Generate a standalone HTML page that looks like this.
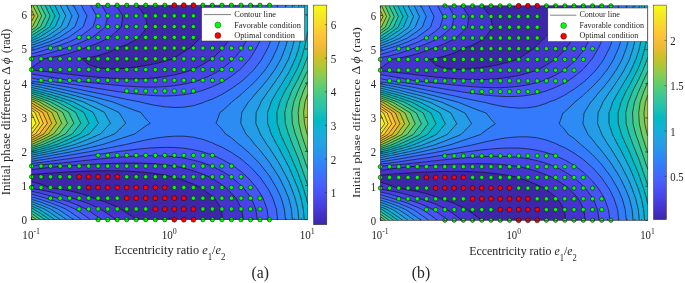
<!DOCTYPE html>
<html><head><meta charset="utf-8"><title>fig</title><style>html,body{margin:0;padding:0;background:#fff}svg{display:block}svg text{font-family:"Liberation Serif",serif;filter:grayscale(1)}</style></head><body>
<svg width="685" height="283" viewBox="0 0 685 283" fill="#262626">
<defs><linearGradient id="pg" x1="0" y1="1" x2="0" y2="0"><stop offset="0.0000" stop-color="#3e26a8"/><stop offset="0.0476" stop-color="#4332cb"/><stop offset="0.0952" stop-color="#4741e5"/><stop offset="0.1429" stop-color="#4852f4"/><stop offset="0.1905" stop-color="#4563fd"/><stop offset="0.2381" stop-color="#3875fe"/><stop offset="0.2857" stop-color="#2e87f7"/><stop offset="0.3333" stop-color="#2797eb"/><stop offset="0.3810" stop-color="#20a5e3"/><stop offset="0.4286" stop-color="#12b1d6"/><stop offset="0.4762" stop-color="#02bac3"/><stop offset="0.5238" stop-color="#24c1ae"/><stop offset="0.5714" stop-color="#37c897"/><stop offset="0.6190" stop-color="#57cc7a"/><stop offset="0.6667" stop-color="#81cc59"/><stop offset="0.7143" stop-color="#abc739"/><stop offset="0.7619" stop-color="#d1bf27"/><stop offset="0.8095" stop-color="#f0ba36"/><stop offset="0.8571" stop-color="#fec338"/><stop offset="0.9048" stop-color="#fad62d"/><stop offset="0.9524" stop-color="#f5e924"/><stop offset="1.0000" stop-color="#f9fb15"/><stop offset="1" stop-color="#f9fb15"/></linearGradient></defs>
<rect width="685" height="283" fill="#fff"/>
<clipPath id="cp0"><rect x="31.5" y="5.2" width="276.1" height="214.5"/></clipPath>
<g clip-path="url(#cp0)">
<path fill="#3e26a8" stroke="#3e26a8" stroke-width="0.6" d="M120.7,209 126.7,212.8 136.2,219.5 136.5,219.7 145.7,219.7 155.3,219.7 164.8,219.7 174.3,219.7 183.8,219.7 193.4,219.7 202.9,219.7 212.4,219.7 221.9,219.7 222.5,219.7 221.9,213.4 221.4,209 214.5,198.2 212.4,196.4 202.9,189.1 200.6,187.5 193.4,184.2 183.8,180.5 174.3,177.1 173.3,176.8 164.8,175.1 155.3,173.6 145.7,172.5 136.2,171.7 126.7,171.1 117.2,170.8 107.7,170.8 98.1,170.8 88.6,171.1 79.1,171.5 69.6,171.9 60.1,172.5 50.5,173.1 41,173.8 31.5,174.5 31.5,176.8 31.5,181.5 41,184.2 49.1,187.5 50.5,187.7 60.1,189.1 69.6,190.8 79.1,193.1 88.6,196.1 94.3,198.2 98.1,199.5 107.7,202.8 117.2,207.2 120.7,209ZM82.3,58.8 88.6,64.6 98.1,67.8 107.7,68.8 117.2,68.8 126.7,68.1 136.2,67 145.7,65.5 155.3,63.6 164.8,61.3 173,58.8 174.3,58 183.8,51.9 189.6,48.1 193.4,44.7 200.9,37.4 202.9,35.5 210.7,26.6 212.4,24.8 218.3,15.9 221.9,7.1 222.5,5.2 221.9,5.2 212.4,5.2 202.9,5.2 193.4,5.2 183.8,5.2 174.3,5.2 164.8,5.2 155.3,5.2 145.7,5.2 136.5,5.2 145.4,15.9 145.7,18.5 147.4,26.6 145.7,29.1 139.4,37.4 136.2,39.5 126.7,44.6 117.2,48.1 117.1,48.1 107.7,52.6 98.1,55.6 88.6,57.7 82.3,58.8Z"/>
<path fill="#4433cc" stroke="#4433cc" stroke-width="0.6" d="M100.4,209 107.7,213.7 115.9,219.7 117.2,219.7 126.7,219.7 136.2,219.7 136.5,219.7 136.2,219.5 126.7,212.8 120.7,209 117.2,207.2 107.7,202.8 98.1,199.5 94.3,198.2 88.6,196.1 79.1,193.1 69.6,190.8 60.1,189.1 50.5,187.7 49.1,187.5 41,184.2 31.5,181.5 31.5,187.5 31.5,188.5 41,190 50.5,191.9 60.1,194.2 69.6,197.1 72.7,198.2 79.1,200.2 88.6,203.6 98.1,207.9 100.4,209ZM221.4,209 221.9,213.4 222.5,219.7 231.4,219.7 241,219.7 243.1,219.7 241.6,209 241,207.5 236,198.2 231.4,193.1 225.8,187.5 221.9,184.7 212.4,178.7 209,176.8 202.9,174.2 193.4,170.8 183.8,168.1 174.7,166.1 174.3,166 164.8,164.7 155.3,163.8 145.7,163.3 136.2,163.1 126.7,163.1 117.2,163.3 107.7,163.6 98.1,164 88.6,164.5 79.1,165.1 69.6,165.6 62.1,166.1 60.1,166.3 50.5,167.4 41,168.5 31.5,169.7 31.5,174.5 41,173.8 50.5,173.1 60.1,172.5 69.6,171.9 79.1,171.5 88.6,171.1 98.1,170.8 107.7,170.8 117.2,170.8 126.7,171.1 136.2,171.7 145.7,172.5 155.3,173.6 164.8,175.1 173.3,176.8 174.3,177.1 183.8,180.5 193.4,184.2 200.6,187.5 202.9,189.1 212.4,196.4 214.5,198.2 221.4,209ZM31.5,69.6 31.5,69.9 41,71 50.5,72.1 60.1,73.2 69.6,74.3 79.1,75.4 88.6,76.4 98.1,77.3 107.7,78 117.2,78.6 126.7,78.9 136.2,78.9 145.7,78.6 155.3,77.8 164.8,76.6 174.3,74.9 183.8,72.5 193.3,69.6 193.4,69.5 202.9,64.4 212.1,58.8 212.4,58.6 221.9,49.3 223,48.1 230.8,37.4 231.4,36.4 236.7,26.6 241,16.9 241.3,15.9 243.1,5.2 241,5.2 231.4,5.2 222.5,5.2 221.9,7.1 218.3,15.9 212.4,24.8 210.7,26.6 202.9,35.5 200.9,37.4 193.4,44.7 189.6,48.1 183.8,51.9 174.3,58 173,58.8 164.8,61.3 155.3,63.6 145.7,65.5 136.2,67 126.7,68.1 117.2,68.8 107.7,68.8 98.1,67.8 88.6,64.6 82.3,58.8 88.6,57.7 98.1,55.6 107.7,52.6 117.1,48.1 117.2,48.1 126.7,44.6 136.2,39.5 139.4,37.4 145.7,29.1 147.4,26.6 145.7,18.5 145.4,15.9 136.5,5.2 136.2,5.2 126.7,5.2 117.2,5.2 115.9,5.2 117.2,7.3 122.9,15.9 121.4,26.6 117.2,30.8 109.5,37.4 107.7,38.4 98.1,43.1 88.6,46.7 84.2,48.1 79.1,50.1 69.6,53.3 60.1,55.7 50.5,57.6 43.2,58.8 41,61 31.5,67.8 31.5,69.6Z"/>
<path fill="#4743e7" stroke="#4743e7" stroke-width="0.6" d="M86.1,209 88.6,210.6 98.1,217 101.8,219.7 107.7,219.7 115.9,219.7 107.7,213.7 100.4,209 98.1,207.9 88.6,203.6 79.1,200.2 72.7,198.2 69.6,197.1 60.1,194.2 50.5,191.9 41,190 31.5,188.5 31.5,191.3 41,193.4 50.5,196 57.6,198.2 60.1,199 69.6,202 79.1,205.7 86.1,209ZM243.1,219.7 250.5,219.7 257.3,219.7 255.8,209 251.3,198.2 250.5,197.1 243.1,187.5 241,185.3 231.4,177.1 231.1,176.8 221.9,171.1 212.4,166.3 211.9,166.1 202.9,162.7 193.4,160.1 183.8,158.1 174.3,156.8 164.8,156 155.3,155.7 145.7,155.7 136.2,156.1 126.7,156.6 117.2,157.3 107.7,158.2 98.1,159.1 88.6,160.1 79.1,161.1 69.6,162.1 60.1,163.1 50.5,164 41,164.8 31.5,165.6 31.5,166.1 31.5,169.7 41,168.5 50.5,167.4 60.1,166.3 62.1,166.1 69.6,165.6 79.1,165.1 88.6,164.5 98.1,164 107.7,163.6 117.2,163.3 126.7,163.1 136.2,163.1 145.7,163.3 155.3,163.8 164.8,164.7 174.3,166 174.7,166.1 183.8,168.1 193.4,170.8 202.9,174.2 209,176.8 212.4,178.7 221.9,184.7 225.8,187.5 231.4,193.1 236,198.2 241,207.5 241.6,209 243.1,219.7ZM68.4,80.3 69.6,80.4 79.1,81.4 88.6,82.4 98.1,83.4 107.7,84.4 117.2,85.3 126.7,86.1 136.2,86.7 145.7,87.1 155.3,87.1 164.8,86.6 174.3,85.7 183.8,84.2 193.4,82 199,80.3 202.9,78.8 212.4,74.5 221.3,69.6 221.9,69.1 231.4,61.2 233.9,58.8 241,50 242.3,48.1 248.2,37.4 250.5,32.6 252.8,26.6 256,15.9 257.3,5.2 250.5,5.2 243.1,5.2 241.3,15.9 241,16.9 236.7,26.6 231.4,36.4 230.8,37.4 223,48.1 221.9,49.3 212.4,58.6 212.1,58.8 202.9,64.4 193.4,69.5 193.3,69.6 183.8,72.5 174.3,74.9 164.8,76.6 155.3,77.8 145.7,78.6 136.2,78.9 126.7,78.9 117.2,78.6 107.7,78 98.1,77.3 88.6,76.4 79.1,75.4 69.6,74.3 60.1,73.2 50.5,72.1 41,71 31.5,69.9 31.5,74 41,75.5 50.5,77.1 60.1,78.8 68.4,80.3ZM31.5,58.8 31.5,67.8 41,61 43.2,58.8 50.5,57.6 60.1,55.7 69.6,53.3 79.1,50.1 84.2,48.1 88.6,46.7 98.1,43.1 107.7,38.4 109.5,37.4 117.2,30.8 121.4,26.6 122.9,15.9 117.2,7.3 115.9,5.2 107.7,5.2 101.8,5.2 107.7,15.6 107.8,15.9 107.7,16.6 105.3,26.6 98.1,32.8 92,37.4 88.6,39.1 79.1,43.3 69.6,46.7 64.9,48.1 60.1,49.8 50.5,52.9 41,55.2 31.5,57.1 31.5,58.8Z"/>
<path fill="#4755f6" stroke="#4755f6" stroke-width="0.6" d="M74.9,209 79.1,211.6 88.6,218.3 90.6,219.7 98.1,219.7 101.8,219.7 98.1,217 88.6,210.6 86.1,209 79.1,205.7 69.6,202 60.1,199 57.6,198.2 50.5,196 41,193.4 31.5,191.3 31.5,194.1 41,196.8 45.7,198.2 50.5,199.7 60.1,202.8 69.6,206.6 74.9,209ZM257.3,219.7 260,219.7 268.5,219.7 267,209 263,198.2 260,193 256.4,187.5 250.5,180.5 246.9,176.8 241,171.5 233.6,166.1 231.4,164.6 221.9,159.3 212.8,155.3 212.4,155.1 202.9,151.9 193.4,149.7 183.8,148.2 174.3,147.5 164.8,147.4 155.3,147.7 145.7,148.4 136.2,149.3 126.7,150.5 117.2,151.7 107.7,153 98.1,154.4 91.1,155.3 88.6,155.7 79.1,157.2 69.6,158.6 60.1,159.9 50.5,161.2 41,162.4 31.5,163.4 31.5,165.6 41,164.8 50.5,164 60.1,163.1 69.6,162.1 79.1,161.1 88.6,160.1 98.1,159.1 107.7,158.2 117.2,157.3 126.7,156.6 136.2,156.1 145.7,155.7 155.3,155.7 164.8,156 174.3,156.8 183.8,158.1 193.4,160.1 202.9,162.7 211.9,166.1 212.4,166.3 221.9,171.1 231.1,176.8 231.4,177.1 241,185.3 243.1,187.5 250.5,197.1 251.3,198.2 255.8,209 257.3,219.7ZM114.1,91 117.2,91.5 126.7,92.8 136.2,94 145.7,95 155.3,95.7 164.8,96 174.3,95.7 183.8,94.7 193.4,93 200.3,91 202.9,90.3 212.4,86.8 221.9,82.2 225.2,80.3 231.4,76.2 239.9,69.6 241,68.6 249.8,58.8 250.5,57.8 256.4,48.1 260,40.6 261.3,37.4 264.9,26.6 267.5,15.9 268.5,5.2 260,5.2 257.3,5.2 256,15.9 252.8,26.6 250.5,32.6 248.2,37.4 242.3,48.1 241,50 233.9,58.8 231.4,61.2 221.9,69.1 221.3,69.6 212.4,74.5 202.9,78.8 199,80.3 193.4,82 183.8,84.2 174.3,85.7 164.8,86.6 155.3,87.1 145.7,87.1 136.2,86.7 126.7,86.1 117.2,85.3 107.7,84.4 98.1,83.4 88.6,82.4 79.1,81.4 69.6,80.4 68.4,80.3 60.1,78.8 50.5,77.1 41,75.5 31.5,74 31.5,78 41,80 42.2,80.3 50.5,81.3 60.1,82.6 69.6,84 79.1,85.4 88.6,86.9 98.1,88.5 107.7,90 114.1,91ZM31.5,53.9 31.5,57.1 41,55.2 50.5,52.9 60.1,49.8 64.9,48.1 69.6,46.7 79.1,43.3 88.6,39.1 92,37.4 98.1,32.8 105.3,26.6 107.7,16.6 107.8,15.9 107.7,15.6 101.8,5.2 98.1,5.2 90.6,5.2 96.5,15.9 93.2,26.6 88.6,30.4 79.1,37.2 78.8,37.4 69.6,41.7 60.1,45.2 50.5,48.1 50.5,48.1 41,51.3 31.5,53.9Z"/>
<path fill="#4367fd" stroke="#4367fd" stroke-width="0.6" d="M65.6,209 69.6,211.5 79.1,218 81.4,219.7 88.6,219.7 90.6,219.7 88.6,218.3 79.1,211.6 74.9,209 69.6,206.6 60.1,202.8 50.5,199.7 45.7,198.2 41,196.8 31.5,194.1 31.5,196.9 35.9,198.2 41,199.7 50.5,202.8 60.1,206.5 65.6,209ZM268.5,219.7 269.5,219.7 277.7,219.7 276.4,209 272.8,198.2 269.5,191.5 267.2,187.5 260,177.3 259.6,176.8 250.5,167 249.4,166.1 241,158.9 235.6,155.3 231.4,152.4 221.9,147.1 215.8,144.6 212.4,142.9 202.9,139.4 193.4,137.2 183.8,136.2 174.3,136.2 164.8,136.9 155.3,138.2 145.7,140 136.2,142.1 126.7,144.3 125.6,144.6 117.2,146.2 107.7,148.1 98.1,150 88.6,151.8 79.1,153.5 69.6,155.1 68.1,155.3 60.1,156.8 50.5,158.4 41,159.9 31.5,161.3 31.5,163.4 41,162.4 50.5,161.2 60.1,159.9 69.6,158.6 79.1,157.2 88.6,155.7 91.1,155.3 98.1,154.4 107.7,153 117.2,151.7 126.7,150.5 136.2,149.3 145.7,148.4 155.3,147.7 164.8,147.4 174.3,147.5 183.8,148.2 193.4,149.7 202.9,151.9 212.4,155.1 212.8,155.3 221.9,159.3 231.4,164.6 233.6,166.1 241,171.5 246.9,176.8 250.5,180.5 256.4,187.5 260,193 263,198.2 267,209 268.5,219.7ZM139.2,101.7 145.7,103.4 155.3,105.4 164.8,106.8 174.3,107.5 183.8,107.2 193.4,105.7 202.9,102.7 204.9,101.7 212.4,99.1 221.9,94.5 227.5,91 231.4,88.7 241,81.8 242.8,80.3 250.5,73.2 253.9,69.6 260,61.8 262,58.8 267.7,48.1 269.5,43.8 271.8,37.4 274.8,26.6 277,15.9 277.7,5.2 269.5,5.2 268.5,5.2 267.5,15.9 264.9,26.6 261.3,37.4 260,40.6 256.4,48.1 250.5,57.8 249.8,58.8 241,68.6 239.9,69.6 231.4,76.2 225.2,80.3 221.9,82.2 212.4,86.8 202.9,90.3 200.3,91 193.4,93 183.8,94.7 174.3,95.7 164.8,96 155.3,95.7 145.7,95 136.2,94 126.7,92.8 117.2,91.5 114.1,91 107.7,90 98.1,88.5 88.6,86.9 79.1,85.4 69.6,84 60.1,82.6 50.5,81.3 42.2,80.3 41,80 31.5,78 31.5,80.3 31.5,81.2 41,82.5 50.5,84.1 60.1,85.7 69.6,87.5 79.1,89.4 86.8,91 88.6,91.4 98.1,93.3 107.7,95.3 117.2,97.4 126.7,99.4 136.2,101.2 139.2,101.7ZM31.5,50.7 31.5,53.9 41,51.3 50.5,48.1 50.5,48.1 60.1,45.2 69.6,41.7 78.8,37.4 79.1,37.2 88.6,30.4 93.2,26.6 96.5,15.9 90.6,5.2 88.6,5.2 81.4,5.2 87,15.9 83.3,26.6 79.1,29.9 69.6,36.6 68.4,37.4 60.1,41.1 50.5,44.7 41,47.6 39.4,48.1 31.5,50.7Z"/>
<path fill="#347afd" stroke="#347afd" stroke-width="0.6" d="M57.6,209 60.1,210.5 69.6,216.9 73.5,219.7 79.1,219.7 81.4,219.7 79.1,218 69.6,211.5 65.6,209 60.1,206.5 50.5,202.8 41,199.7 35.9,198.2 31.5,196.9 31.5,198.2 31.5,199.4 41,202.3 50.5,205.9 57.6,209ZM277.7,219.7 279,219.7 285.5,219.7 284.3,209 281.3,198.2 279,193 276.3,187.5 269.9,176.8 269.5,176.1 261.7,166.1 260,163.9 251.7,155.3 250.5,154.1 241,145.8 239.3,144.6 231.4,137.8 225.5,133.9 221.9,129.1 216.1,123.2 220,112.4 221.9,111.2 231.4,102.5 232.1,101.7 241,94.7 244.7,91 250.5,86 256.1,80.3 260,76.1 265.3,69.6 269.5,63.4 272.2,58.8 277.2,48.1 279,42.8 280.7,37.4 283.2,26.6 285,15.9 285.5,5.2 279,5.2 277.7,5.2 277,15.9 274.8,26.6 271.8,37.4 269.5,43.8 267.7,48.1 262,58.8 260,61.8 253.9,69.6 250.5,73.2 242.8,80.3 241,81.8 231.4,88.7 227.5,91 221.9,94.5 212.4,99.1 204.9,101.7 202.9,102.7 193.4,105.7 183.8,107.2 174.3,107.5 164.8,106.8 155.3,105.4 145.7,103.4 139.2,101.7 136.2,101.2 126.7,99.4 117.2,97.4 107.7,95.3 98.1,93.3 88.6,91.4 86.8,91 79.1,89.4 69.6,87.5 60.1,85.7 50.5,84.1 41,82.5 31.5,81.2 31.5,83.3 41,84.9 50.5,86.8 60.1,88.8 69.4,91 69.6,91 79.1,93.2 88.6,95.5 98.1,98 107.7,100.6 112.1,101.7 117.2,103.7 126.7,107.4 136.2,110.9 140.7,112.4 145.7,118.6 150.2,123.2 145.7,126 136.2,132.9 135,133.9 126.7,136.6 117.2,139.7 107.7,142.9 102.3,144.6 98.1,145.6 88.6,147.9 79.1,150.1 69.6,152.1 60.1,153.9 52.2,155.3 50.5,155.7 41,157.5 31.5,159.2 31.5,161.3 41,159.9 50.5,158.4 60.1,156.8 68.1,155.3 69.6,155.1 79.1,153.5 88.6,151.8 98.1,150 107.7,148.1 117.2,146.2 125.6,144.6 126.7,144.3 136.2,142.1 145.7,140 155.3,138.2 164.8,136.9 174.3,136.2 183.8,136.2 193.4,137.2 202.9,139.4 212.4,142.9 215.8,144.6 221.9,147.1 231.4,152.4 235.6,155.3 241,158.9 249.4,166.1 250.5,167 259.6,176.8 260,177.3 267.2,187.5 269.5,191.5 272.8,198.2 276.4,209 277.7,219.7ZM31.5,48.1 31.5,50.7 39.4,48.1 41,47.6 50.5,44.7 60.1,41.1 68.4,37.4 69.6,36.6 79.1,29.9 83.3,26.6 87,15.9 81.4,5.2 79.1,5.2 73.5,5.2 78.9,15.9 74.9,26.6 69.6,30.7 60.1,37 59.5,37.4 50.5,41.3 41,44.8 31.5,47.7 31.5,48.1Z"/>
<path fill="#2d8cf3" stroke="#2d8cf3" stroke-width="0.6" d="M50.4,209 50.5,209.1 60.1,215.1 66.6,219.7 69.6,219.7 73.5,219.7 69.6,216.9 60.1,210.5 57.6,209 50.5,205.9 41,202.3 31.5,199.4 31.5,201.6 41,205 50.4,209ZM285.5,219.7 288.6,219.7 292.4,219.7 291.4,209 288.7,198.2 288.6,197.8 284.2,187.5 279,177.2 278.8,176.8 271.9,166.1 269.5,162.4 263.9,155.3 260,150.2 254.8,144.6 250.5,138.9 245.9,133.9 241,123.8 240.6,123.2 241,120.3 241.8,112.4 248.6,101.7 250.5,99.9 257.8,91 260,88.8 267,80.3 269.5,77.1 274.8,69.6 279,62.5 281,58.8 285.2,48.1 288.4,37.4 288.6,36.8 290.5,26.6 292,15.9 292.4,5.2 288.6,5.2 285.5,5.2 285,15.9 283.2,26.6 280.7,37.4 279,42.8 277.2,48.1 272.2,58.8 269.5,63.4 265.3,69.6 260,76.1 256.1,80.3 250.5,86 244.7,91 241,94.7 232.1,101.7 231.4,102.5 221.9,111.2 220,112.4 216.1,123.2 221.9,129.1 225.5,133.9 231.4,137.8 239.3,144.6 241,145.8 250.5,154.1 251.7,155.3 260,163.9 261.7,166.1 269.5,176.1 269.9,176.8 276.3,187.5 279,193 281.3,198.2 284.3,209 285.5,219.7ZM31.5,157 31.5,159.2 41,157.5 50.5,155.7 52.2,155.3 60.1,153.9 69.6,152.1 79.1,150.1 88.6,147.9 98.1,145.6 102.3,144.6 107.7,142.9 117.2,139.7 126.7,136.6 135,133.9 136.2,132.9 145.7,126 150.2,123.2 145.7,118.6 140.7,112.4 136.2,110.9 126.7,107.4 117.2,103.7 112.1,101.7 107.7,100.6 98.1,98 88.6,95.5 79.1,93.2 69.6,91 69.4,91 60.1,88.8 50.5,86.8 41,84.9 31.5,83.3 31.5,85.4 41,87.3 50.5,89.5 56.6,91 60.1,91.9 69.6,94.2 79.1,96.8 88.6,99.7 95.4,101.7 98.1,103 107.7,107.2 117.2,111.7 118.9,112.4 125.8,123.2 117.2,131.4 114.8,133.9 107.7,136.7 98.1,140.4 88.6,143.9 86.6,144.6 79.1,146.6 69.6,149.1 60.1,151.3 50.5,153.3 41,155.1 39.8,155.3 31.5,157ZM31.5,45.3 31.5,47.7 41,44.8 50.5,41.3 59.5,37.4 60.1,37 69.6,30.7 74.9,26.6 78.9,15.9 73.5,5.2 69.6,5.2 66.6,5.2 69.6,11.4 72,15.9 69.6,21.6 67.5,26.6 60.1,32.2 51.9,37.4 50.5,38 41,42 31.5,45.3Z"/>
<path fill="#259ce7" stroke="#259ce7" stroke-width="0.6" d="M44.3,209 50.5,212.9 60.1,219.6 60.2,219.7 66.6,219.7 60.1,215.1 50.5,209.1 50.4,209 41,205 31.5,201.6 31.5,203.8 41,207.6 44.3,209ZM292.4,219.7 298.1,219.7 298.8,219.7 298.1,211.9 297.8,209 295.1,198.2 291.2,187.5 288.6,181.2 286.4,176.8 280.7,166.1 279,163 274.1,155.3 269.5,148 266.9,144.6 260.2,133.9 260,133.3 255.8,123.2 256.2,112.4 260,104.6 261.1,101.7 268.4,91 269.5,89.7 276.1,80.3 279,76.1 283.1,69.6 288.6,59 288.7,58.8 292.3,48.1 295,37.4 297.1,26.6 298.1,19.1 298.4,15.9 298.8,5.2 298.1,5.2 292.4,5.2 292,15.9 290.5,26.6 288.6,36.8 288.4,37.4 285.2,48.1 281,58.8 279,62.5 274.8,69.6 269.5,77.1 267,80.3 260,88.8 257.8,91 250.5,99.9 248.6,101.7 241.8,112.4 241,120.3 240.6,123.2 241,123.8 245.9,133.9 250.5,138.9 254.8,144.6 260,150.2 263.9,155.3 269.5,162.4 271.9,166.1 278.8,176.8 279,177.2 284.2,187.5 288.6,197.8 288.7,198.2 291.4,209 292.4,219.7ZM31.5,155.3 31.5,157 39.8,155.3 41,155.1 50.5,153.3 60.1,151.3 69.6,149.1 79.1,146.6 86.6,144.6 88.6,143.9 98.1,140.4 107.7,136.7 114.8,133.9 117.2,131.4 125.8,123.2 118.9,112.4 117.2,111.7 107.7,107.2 98.1,103 95.4,101.7 88.6,99.7 79.1,96.8 69.6,94.2 60.1,91.9 56.6,91 50.5,89.5 41,87.3 31.5,85.4 31.5,87.5 41,89.7 46,91 50.5,92.1 60.1,94.7 69.6,97.4 79.1,100.5 83,101.7 88.6,104.5 98.1,109.2 104.4,112.4 107.7,118.5 110.5,123.2 107.7,126.1 100.6,133.9 98.1,134.9 88.6,139.1 79.1,142.9 74.6,144.6 69.6,146 60.1,148.6 50.5,151 41,153.1 31.5,155 31.5,155.3ZM31.5,43 31.5,45.3 41,42 50.5,38 51.9,37.4 60.1,32.2 67.5,26.6 69.6,21.6 72,15.9 69.6,11.4 66.6,5.2 60.2,5.2 65.8,15.9 61,26.6 60.1,27.3 50.5,34.1 45.2,37.4 41,39.2 31.5,43Z"/>
<path fill="#1caadf" stroke="#1caadf" stroke-width="0.6" d="M38.6,209 41,210.5 50.5,216.7 54.8,219.7 60.1,219.7 60.2,219.7 60.1,219.6 50.5,212.9 44.3,209 41,207.6 31.5,203.8 31.5,206 38.6,209ZM297.8,209 298.1,211.9 298.8,219.7 304.2,219.7 303.3,209 301,198.2 298.1,188.9 297.6,187.5 293.1,176.8 288.6,166.4 288.4,166.1 282.7,155.3 279,148.2 276.8,144.6 271.2,133.9 269.5,128.5 267.6,123.2 267.5,112.4 269.5,107.2 271.2,101.7 277.3,91 279,88.5 284,80.3 288.6,72.9 290.3,69.6 295.2,58.8 298.1,50.6 298.8,48.1 301.1,37.4 302.8,26.6 303.9,15.9 304.2,5.2 298.8,5.2 298.4,15.9 298.1,19.1 297.1,26.6 295,37.4 292.3,48.1 288.7,58.8 288.6,59 283.1,69.6 279,76.1 276.1,80.3 269.5,89.7 268.4,91 261.1,101.7 260,104.6 256.2,112.4 255.8,123.2 260,133.3 260.2,133.9 266.9,144.6 269.5,148 274.1,155.3 279,163 280.7,166.1 286.4,176.8 288.6,181.2 291.2,187.5 295.1,198.2 297.8,209ZM31.5,153.2 31.5,155 41,153.1 50.5,151 60.1,148.6 69.6,146 74.6,144.6 79.1,142.9 88.6,139.1 98.1,134.9 100.6,133.9 107.7,126.1 110.5,123.2 107.7,118.5 104.4,112.4 98.1,109.2 88.6,104.5 83,101.7 79.1,100.5 69.6,97.4 60.1,94.7 50.5,92.1 46,91 41,89.7 31.5,87.5 31.5,89.6 37.1,91 41,92 50.5,94.6 60.1,97.5 69.6,100.6 72.8,101.7 79.1,104.9 88.6,110 93.1,112.4 98.1,122.3 98.6,123.2 98.1,123.7 89.4,133.9 88.6,134.2 79.1,138.6 69.6,142.7 64.7,144.6 60.1,146 50.5,148.7 41,151.1 31.5,153.2ZM31.5,40.6 31.5,43 41,39.2 45.2,37.4 50.5,34.1 60.1,27.3 61,26.6 65.8,15.9 60.2,5.2 60.1,5.2 54.8,5.2 59.9,15.9 55.3,26.6 50.5,30.1 41,36.2 39.1,37.4 31.5,40.6Z"/>
<path fill="#05b6ce" stroke="#05b6ce" stroke-width="0.6" d="M33.4,209 41,213.7 49.6,219.7 50.5,219.7 54.8,219.7 50.5,216.7 41,210.5 38.6,209 31.5,206 31.5,208.2 33.4,209ZM304.2,219.7 307.6,219.7 307.6,209 307.6,203.9 306.4,198.2 303.1,187.5 299.3,176.8 298.1,173.3 295,166.1 290.3,155.3 288.6,151.2 285.2,144.6 280.4,133.9 279,128.9 277.2,123.2 276.9,112.4 279,105.1 279.9,101.7 284.9,91 288.6,85 291,80.3 296.8,69.6 298.1,66.8 301.3,58.8 304.4,48.1 306.7,37.4 307.6,31.3 307.6,26.6 307.6,15.9 307.6,5.2 304.2,5.2 303.9,15.9 302.8,26.6 301.1,37.4 298.8,48.1 298.1,50.6 295.2,58.8 290.3,69.6 288.6,72.9 284,80.3 279,88.5 277.3,91 271.2,101.7 269.5,107.2 267.5,112.4 267.6,123.2 269.5,128.5 271.2,133.9 276.8,144.6 279,148.2 282.7,155.4 288.4,166.1 288.6,166.4 293.1,176.8 297.6,187.5 298.1,188.9 301,198.2 303.3,209 304.2,219.7ZM31.5,151.5 31.5,153.2 41,151.1 50.5,148.7 60.1,146 64.7,144.6 69.6,142.7 79.1,138.6 88.6,134.2 89.4,133.9 98.1,123.7 98.6,123.2 98.1,122.3 93.1,112.4 88.6,110 79.1,104.9 72.8,101.7 69.6,100.6 60.1,97.5 50.5,94.6 41,92 37.1,91 31.5,89.6 31.5,91 31.5,91.6 41,94.1 50.5,97 60.1,100.3 64.3,101.7 69.6,104.5 79.1,109.8 83.8,112.4 88.6,122.4 89,123.2 88.6,123.6 80.2,133.9 79.1,134.4 69.6,139 60.1,143.1 56.3,144.6 50.5,146.4 41,149.1 31.5,151.5ZM31.5,38.3 31.5,40.6 39.1,37.4 41,36.2 50.5,30.1 55.3,26.6 59.9,15.9 54.8,5.2 50.5,5.2 49.6,5.2 50.5,7.2 55,15.9 50.5,25.2 49.9,26.6 41,32.9 33.6,37.4 31.5,38.3Z"/>
<path fill="#12beb9" stroke="#12beb9" stroke-width="0.6" d="M31.5,209 31.5,210.7 41,216.9 45.1,219.7 49.6,219.7 41,213.7 33.4,209 31.5,208.2 31.5,209ZM306.4,198.2 307.6,203.9 307.6,198.2 307.6,187.5 307.6,184.8 304.8,176.8 301,166.1 298.1,157.8 297,155.3 292.5,144.6 288.6,134.2 288.4,133.9 285.3,123.2 284.8,112.4 287.3,101.7 288.6,99 291.7,91 297.4,80.3 298.1,79 302.5,69.6 306.9,58.8 307.6,56.3 307.6,48.1 307.6,37.4 307.6,31.3 306.7,37.4 304.4,48.1 301.3,58.8 298.1,66.8 296.8,69.6 291,80.3 288.6,85 284.9,91 279.9,101.7 279,105.1 276.9,112.4 277.2,123.2 279,128.9 280.4,133.9 285.2,144.6 288.6,151.2 290.3,155.4 295,166.1 298.1,173.3 299.3,176.8 303.1,187.5 306.4,198.2ZM31.5,149.7 31.5,151.5 41,149.1 50.5,146.4 56.3,144.6 60.1,143.1 69.6,139 79.1,134.4 80.2,133.9 88.6,123.6 89,123.2 88.6,122.4 83.8,112.4 79.1,109.8 69.6,104.5 64.3,101.7 60.1,100.3 50.5,97 41,94.1 31.5,91.6 31.5,93.4 41,96.3 50.5,99.5 56.8,101.7 60.1,103.5 69.6,108.8 75.8,112.4 79.1,119.6 80.9,123.2 79.1,125.4 72.4,133.9 69.6,135.3 60.1,139.8 50.5,143.9 48.9,144.6 41,147.1 31.5,149.7ZM31.5,37.4 31.5,38.3 33.6,37.4 41,32.9 49.9,26.6 50.5,25.2 55,15.9 50.5,7.2 49.6,5.2 45.1,5.2 50.1,15.9 45.2,26.6 41,29.6 31.5,35.7 31.5,37.4Z"/>
<path fill="#2fc5a2" stroke="#2fc5a2" stroke-width="0.6" d="M40.6,219.7 41,219.7 45.1,219.7 41,216.9 31.5,210.7 31.5,213.4 40.6,219.7ZM304.8,176.8 307.6,184.8 307.6,176.8 307.6,168.9 306.6,166.1 302.9,155.4 299.1,144.6 298.1,141.4 295.2,133.9 292.4,123.2 291.8,112.4 293.8,101.7 298,91 298.1,90.9 302.9,80.3 307.6,70.5 307.6,69.6 307.6,58.8 307.6,56.3 306.9,58.8 302.5,69.6 298.1,79 297.4,80.3 291.7,91 288.6,99 287.3,101.7 284.8,112.4 285.3,123.2 288.4,133.9 288.6,134.2 292.5,144.6 297,155.3 298.1,157.8 301,166.1 304.8,176.8ZM31.5,148 31.5,149.7 41,147.1 48.9,144.6 50.5,143.9 60.1,139.8 69.6,135.3 72.4,133.9 79.1,125.4 80.9,123.2 79.1,119.6 75.8,112.5 69.6,108.8 60.1,103.5 56.8,101.7 50.5,99.5 41,96.3 31.5,93.4 31.5,95.3 41,98.4 50.1,101.7 50.5,102 60.1,107.2 68.7,112.4 69.6,114.4 73.9,123.2 69.6,128.6 65.5,133.9 60.1,136.6 50.5,141.1 42.4,144.6 41,145 31.5,148ZM31.5,32.9 31.5,35.7 41,29.6 45.2,26.6 50.1,15.9 45.1,5.2 41,5.2 40.6,5.2 41,6.2 45.9,15.9 41,25.7 40.6,26.6 31.5,32.9Z"/>
<path fill="#48cb86" stroke="#48cb86" stroke-width="0.6" d="M36.7,219.7 40.6,219.7 31.5,213.4 31.5,216.1 36.7,219.7ZM306.6,166.1 307.6,168.9 307.6,166.1 307.6,155.3 307.6,152.4 304.9,144.6 301.4,133.9 298.9,123.2 298.2,112.4 299.7,101.7 303.4,91 307.6,81.8 307.6,80.3 307.6,70.5 302.9,80.3 298.1,90.9 298,91 293.8,101.7 291.8,112.4 292.4,123.2 295.2,133.9 298.1,141.4 299.1,144.6 302.9,155.3 306.6,166.1ZM31.5,146.2 31.5,148 41,145 42.4,144.6 50.5,141.1 60.1,136.6 65.5,133.9 69.6,128.6 73.9,123.2 69.6,114.4 68.7,112.4 60.1,107.2 50.5,102 50.1,101.7 41,98.4 31.5,95.3 31.5,97.1 41,100.5 44.3,101.7 50.5,105.2 60.1,110.9 62.6,112.4 67.5,123.2 60.1,132.7 59.2,133.9 50.5,138.3 41,142.7 36.6,144.6 31.5,146.2ZM31.5,30.1 31.5,32.9 40.6,26.6 41,25.7 45.9,15.9 41,6.2 40.6,5.2 36.7,5.2 41,14.6 41.7,15.9 41,17.2 36.6,26.6 31.5,30.1Z"/>
<path fill="#71cd64" stroke="#71cd64" stroke-width="0.6" d="M32.8,219.7 36.7,219.7 31.5,216.1 31.5,218.8 32.8,219.7ZM31.5,144.6 31.5,146.2 36.6,144.6 41,142.7 50.5,138.3 59.2,133.9 60.1,132.7 67.5,123.2 62.6,112.4 60.1,110.9 50.5,105.2 44.3,101.7 41,100.5 31.5,97.1 31.5,98.9 38.9,101.7 41,102.9 50.5,108.5 57,112.4 60.1,119.6 61.8,123.2 60.1,125.4 53.7,133.9 50.5,135.5 41,140.3 31.5,144.5 31.5,144.6ZM304.9,144.6 307.6,152.4 307.6,144.6 307.6,135.4 307.1,133.9 304.5,123.2 303.6,112.4 305.1,101.7 307.6,94.2 307.6,91 307.6,81.8 303.4,91 299.7,101.7 298.2,112.5 298.9,123.2 301.4,133.9 304.9,144.6ZM31.5,27.4 31.5,30.1 36.6,26.6 41,17.2 41.7,15.9 41,14.6 36.7,5.2 32.8,5.2 38,15.9 32.5,26.6 31.5,27.4Z"/>
<path fill="#9fc942" stroke="#9fc942" stroke-width="0.6" d="M31.5,219.7 32.8,219.7 31.5,218.8 31.5,219.7ZM31.5,142.4 31.5,144.5 41,140.3 50.5,135.5 53.7,133.9 60.1,125.4 61.8,123.2 60.1,119.6 57,112.4 50.5,108.5 41,102.9 38.9,101.7 31.5,98.9 31.5,100.8 34,101.7 41,105.8 50.5,111.7 51.8,112.4 56.6,123.2 50.5,131.2 48.6,133.9 41,137.8 31.5,142.4ZM307.1,133.9 307.6,135.4 307.6,133.9 307.6,123.2 307.6,112.4 307.6,101.7 307.6,94.2 305.1,101.7 303.6,112.4 304.5,123.2 307.1,133.9ZM31.5,26.6 31.5,27.4 32.5,26.6 38,15.9 32.8,5.2 31.5,5.2 31.5,10.1 34.4,15.9 31.5,21.5 31.5,26.6Z"/>
<path fill="#c8c129" stroke="#c8c129" stroke-width="0.6" d="M31.5,140.3 31.5,142.4 41,137.8 48.6,133.9 50.5,131.2 56.6,123.2 51.8,112.4 50.5,111.7 41,105.8 34,101.7 31.5,100.8 31.5,101.7 31.5,102.9 41,108.6 47.2,112.4 50.5,120.5 51.8,123.2 50.5,124.8 43.9,133.9 41,135.4 31.5,140.3ZM31.5,15.9 31.5,21.5 34.4,15.9 31.5,10.1 31.5,15.9Z"/>
<path fill="#eaba31" stroke="#eaba31" stroke-width="0.6" d="M31.5,138.2 31.5,140.3 41,135.4 43.9,133.9 50.5,124.8 51.8,123.2 50.5,120.5 47.2,112.4 41,108.6 31.5,102.9 31.5,105.4 41,111.4 42.7,112.4 47.5,123.2 41,131.8 39.5,133.9 31.5,138.2Z"/>
<path fill="#fec13a" stroke="#fec13a" stroke-width="0.6" d="M31.5,136 31.5,138.2 39.5,133.9 41,131.8 47.5,123.2 42.7,112.4 41,111.4 31.5,105.4 31.5,107.8 38.7,112.4 41,118.1 43.3,123.2 41,126.3 35.5,133.9 31.5,136Z"/>
<path fill="#fad42e" stroke="#fad42e" stroke-width="0.6" d="M31.5,133.9 31.5,136 35.5,133.9 41,126.3 43.3,123.2 41,118.1 38.7,112.5 31.5,107.8 31.5,110.2 34.9,112.4 39.5,123.2 31.6,133.9 31.5,133.9Z"/>
<path fill="#f5e825" stroke="#f5e825" stroke-width="0.6" d="M31.5,133.9 31.5,133.9 31.6,133.9 39.5,123.2 34.9,112.4 31.5,110.2 31.5,112.4 31.5,113.1 36,123.2 31.5,129.2 31.5,133.9Z"/>
<path fill="#f9fb15" stroke="#f9fb15" stroke-width="0.6" d="M31.5,123.2 31.5,129.2 36,123.2 31.5,113.1 31.5,123.2Z"/>
<path fill="none" stroke="#000" stroke-opacity="1" stroke-width="0.62" stroke-linejoin="round" d="M136.5,219.7 136.2,219.5 126.7,212.8 120.7,209 117.2,207.2 107.7,202.8 98.1,199.5 94.3,198.2 88.6,196.1 79.1,193.1 69.6,190.8 60.1,189.1 50.5,187.7 49.1,187.5 41,184.2 31.5,181.5M31.5,174.5 41,173.8 50.5,173.1 60.1,172.5 69.6,171.9 79.1,171.5 88.6,171.1 98.1,170.8 107.7,170.8 117.2,170.8 126.7,171.1 136.2,171.7 145.7,172.5 155.3,173.6 164.8,175.1 173.3,176.8 174.3,177.1 183.8,180.5 193.4,184.2 200.6,187.5 202.9,189.1 212.4,196.4 214.5,198.2 221.4,209 221.9,213.4 222.5,219.7M222.5,5.2 221.9,7.1 218.3,15.9 212.4,24.8 210.7,26.6 202.9,35.5 200.9,37.4 193.4,44.7 189.6,48.1 183.8,51.9 174.3,58 173,58.8 164.8,61.3 155.3,63.6 145.7,65.5 136.2,67 126.7,68.1 117.2,68.8 107.7,68.8 98.1,67.8 88.6,64.6 82.3,58.8 88.6,57.7 98.1,55.6 107.7,52.6 117.1,48.1 117.2,48.1 126.7,44.6 136.2,39.5 139.4,37.4 145.7,29.1 147.4,26.6 145.7,18.5 145.4,15.9 136.5,5.2M115.9,219.7 107.7,213.7 100.4,209 98.1,207.9 88.6,203.6 79.1,200.2 72.7,198.2 69.6,197.1 60.1,194.2 50.5,191.9 41,190 31.5,188.5M31.5,169.7 41,168.5 50.5,167.4 60.1,166.3 62.1,166.1 69.6,165.6 79.1,165.1 88.6,164.5 98.1,164 107.7,163.6 117.2,163.3 126.7,163.1 136.2,163.1 145.7,163.3 155.3,163.8 164.8,164.7 174.3,166 174.7,166.1 183.8,168.1 193.4,170.8 202.9,174.2 209,176.8 212.4,178.7 221.9,184.7 225.8,187.5 231.4,193.1 236,198.2 241,207.5 241.6,209 243.1,219.7M31.5,67.8 41,61 43.2,58.8 50.5,57.6 60.1,55.7 69.6,53.3 79.1,50.1 84.2,48.1 88.6,46.7 98.1,43.1 107.7,38.4 109.5,37.4 117.2,30.8 121.4,26.6 122.9,15.9 117.2,7.3 115.9,5.2M243.1,5.2 241.3,15.9 241,16.9 236.7,26.6 231.4,36.4 230.8,37.4 223,48.1 221.9,49.3 212.4,58.6 212.1,58.8 202.9,64.4 193.4,69.5 193.3,69.6 183.8,72.5 174.3,74.9 164.8,76.6 155.3,77.8 145.7,78.6 136.2,78.9 126.7,78.9 117.2,78.6 107.7,78 98.1,77.3 88.6,76.4 79.1,75.4 69.6,74.3 60.1,73.2 50.5,72.1 41,71 31.5,69.9M101.8,219.7 98.1,217 88.6,210.6 86.1,209 79.1,205.7 69.6,202 60.1,199 57.6,198.2 50.5,196 41,193.4 31.5,191.3M31.5,165.6 41,164.8 50.5,164 60.1,163.1 69.6,162.1 79.1,161.1 88.6,160.1 98.1,159.1 107.7,158.2 117.2,157.3 126.7,156.6 136.2,156.1 145.7,155.7 155.3,155.7 164.8,156 174.3,156.8 183.8,158.1 193.4,160.1 202.9,162.7 211.9,166.1 212.4,166.3 221.9,171.1 231.1,176.8 231.4,177.1 241,185.3 243.1,187.5 250.5,197.1 251.3,198.2 255.8,209 257.3,219.7M31.5,57.1 41,55.2 50.5,52.9 60.1,49.8 64.9,48.1 69.6,46.7 79.1,43.3 88.6,39.1 92,37.4 98.1,32.8 105.3,26.6 107.7,16.6 107.8,15.9 107.7,15.6 101.8,5.2M257.3,5.2 256,15.9 252.8,26.6 250.5,32.6 248.2,37.4 242.3,48.1 241,50 233.9,58.8 231.4,61.2 221.9,69.1 221.3,69.6 212.4,74.5 202.9,78.8 199,80.3 193.4,82 183.8,84.2 174.3,85.7 164.8,86.6 155.3,87.1 145.7,87.1 136.2,86.7 126.7,86.1 117.2,85.3 107.7,84.4 98.1,83.4 88.6,82.4 79.1,81.4 69.6,80.4 68.4,80.3 60.1,78.8 50.5,77.1 41,75.5 31.5,74M90.6,219.7 88.6,218.3 79.1,211.6 74.9,209 69.6,206.6 60.1,202.8 50.5,199.7 45.7,198.2 41,196.8 31.5,194.1M31.5,163.4 41,162.4 50.5,161.2 60.1,159.9 69.6,158.6 79.1,157.2 88.6,155.7 91.1,155.3 98.1,154.4 107.7,153 117.2,151.7 126.7,150.5 136.2,149.3 145.7,148.4 155.3,147.7 164.8,147.4 174.3,147.5 183.8,148.2 193.4,149.7 202.9,151.9 212.4,155.1 212.8,155.3 221.9,159.3 231.4,164.6 233.6,166.1 241,171.5 246.9,176.8 250.5,180.5 256.4,187.5 260,193 263,198.2 267,209 268.5,219.7M31.5,53.9 41,51.3 50.5,48.1 50.5,48.1 60.1,45.2 69.6,41.7 78.8,37.4 79.1,37.2 88.6,30.4 93.2,26.6 96.5,15.9 90.6,5.2M268.5,5.2 267.5,15.9 264.9,26.6 261.3,37.4 260,40.6 256.4,48.1 250.5,57.8 249.8,58.8 241,68.6 239.9,69.6 231.4,76.2 225.2,80.3 221.9,82.2 212.4,86.8 202.9,90.3 200.3,91 193.4,93 183.8,94.7 174.3,95.7 164.8,96 155.3,95.7 145.7,95 136.2,94 126.7,92.8 117.2,91.5 114.1,91 107.7,90 98.1,88.5 88.6,86.9 79.1,85.4 69.6,84 60.1,82.6 50.5,81.3 42.2,80.3 41,80 31.5,78M81.4,219.7 79.1,218 69.6,211.5 65.6,209 60.1,206.5 50.5,202.8 41,199.7 35.9,198.2 31.5,196.9M31.5,161.3 41,159.9 50.5,158.4 60.1,156.8 68.1,155.3 69.6,155.1 79.1,153.5 88.6,151.8 98.1,150 107.7,148.1 117.2,146.2 125.6,144.6 126.7,144.3 136.2,142.1 145.7,140 155.3,138.2 164.8,136.9 174.3,136.2 183.8,136.2 193.4,137.2 202.9,139.4 212.4,142.9 215.8,144.6 221.9,147.1 231.4,152.4 235.6,155.3 241,158.9 249.4,166.1 250.5,167 259.6,176.8 260,177.3 267.2,187.5 269.5,191.5 272.8,198.2 276.4,209 277.7,219.7M31.5,50.7 39.4,48.1 41,47.6 50.5,44.7 60.1,41.1 68.4,37.4 69.6,36.6 79.1,29.9 83.3,26.6 87,15.9 81.4,5.2M277.7,5.2 277,15.9 274.8,26.6 271.8,37.4 269.5,43.8 267.7,48.1 262,58.8 260,61.8 253.9,69.6 250.5,73.2 242.8,80.3 241,81.8 231.4,88.7 227.5,91 221.9,94.5 212.4,99.1 204.9,101.7 202.9,102.7 193.4,105.7 183.8,107.2 174.3,107.5 164.8,106.8 155.3,105.4 145.7,103.4 139.2,101.7 136.2,101.2 126.7,99.4 117.2,97.4 107.7,95.3 98.1,93.3 88.6,91.4 86.8,91 79.1,89.4 69.6,87.5 60.1,85.7 50.5,84.1 41,82.5 31.5,81.2M73.5,219.7 69.6,216.9 60.1,210.5 57.6,209 50.5,205.9 41,202.3 31.5,199.4M31.5,159.2 41,157.5 50.5,155.7 52.2,155.3 60.1,153.9 69.6,152.1 79.1,150.1 88.6,147.9 98.1,145.6 102.3,144.6 107.7,142.9 117.2,139.7 126.7,136.6 135,133.9 136.2,132.9 145.7,126 150.2,123.2 145.7,118.6 140.7,112.4 136.2,110.9 126.7,107.4 117.2,103.7 112.1,101.7 107.7,100.6 98.1,98 88.6,95.5 79.1,93.2 69.6,91 69.4,91 60.1,88.8 50.5,86.8 41,84.9 31.5,83.3M31.5,47.7 41,44.8 50.5,41.3 59.5,37.4 60.1,37 69.6,30.7 74.9,26.6 78.9,15.9 73.5,5.2M285.5,5.2 285,15.9 283.2,26.6 280.7,37.4 279,42.8 277.2,48.1 272.2,58.8 269.5,63.4 265.3,69.6 260,76.1 256.1,80.3 250.5,86 244.7,91 241,94.7 232.1,101.7 231.4,102.5 221.9,111.2 220,112.4 216.1,123.2 221.9,129.1 225.5,133.9 231.4,137.8 239.3,144.6 241,145.8 250.5,154.1 251.7,155.3 260,163.9 261.7,166.1 269.5,176.1 269.9,176.8 276.3,187.5 279,193 281.3,198.2 284.3,209 285.5,219.7M66.6,219.7 60.1,215.1 50.5,209.1 50.4,209 41,205 31.5,201.6M31.5,157 39.8,155.3 41,155.1 50.5,153.3 60.1,151.3 69.6,149.1 79.1,146.6 86.6,144.6 88.6,143.9 98.1,140.4 107.7,136.7 114.8,133.9 117.2,131.4 125.8,123.2 118.9,112.4 117.2,111.7 107.7,107.2 98.1,103 95.4,101.7 88.6,99.7 79.1,96.8 69.6,94.2 60.1,91.9 56.6,91 50.5,89.5 41,87.3 31.5,85.4M31.5,45.3 41,42 50.5,38 51.9,37.4 60.1,32.2 67.5,26.6 69.6,21.6 72,15.9 69.6,11.4 66.6,5.2M292.4,5.2 292,15.9 290.5,26.6 288.6,36.8 288.4,37.4 285.2,48.1 281,58.8 279,62.5 274.8,69.6 269.5,77.1 267,80.3 260,88.8 257.8,91 250.5,99.9 248.6,101.7 241.8,112.4 241,120.3 240.6,123.2 241,123.8 245.9,133.9 250.5,138.9 254.8,144.6 260,150.2 263.9,155.3 269.5,162.4 271.9,166.1 278.8,176.8 279,177.2 284.2,187.5 288.6,197.8 288.7,198.2 291.4,209 292.4,219.7M60.2,219.7 60.1,219.6 50.5,212.9 44.3,209 41,207.6 31.5,203.8M31.5,155 41,153.1 50.5,151 60.1,148.6 69.6,146 74.6,144.6 79.1,142.9 88.6,139.1 98.1,134.9 100.6,133.9 107.7,126.1 110.5,123.2 107.7,118.5 104.4,112.4 98.1,109.2 88.6,104.5 83,101.7 79.1,100.5 69.6,97.4 60.1,94.7 50.5,92.1 46,91 41,89.7 31.5,87.5M31.5,43 41,39.2 45.2,37.4 50.5,34.1 60.1,27.3 61,26.6 65.8,15.9 60.2,5.2M298.8,5.2 298.4,15.9 298.1,19.1 297.1,26.6 295,37.4 292.3,48.1 288.7,58.8 288.6,59 283.1,69.6 279,76.1 276.1,80.3 269.5,89.7 268.4,91 261.1,101.7 260,104.6 256.2,112.4 255.8,123.2 260,133.3 260.2,133.9 266.9,144.6 269.5,148 274.1,155.3 279,163 280.7,166.1 286.4,176.8 288.6,181.2 291.2,187.5 295.1,198.2 297.8,209 298.1,211.9 298.8,219.7M54.8,219.7 50.5,216.7 41,210.5 38.6,209 31.5,206M31.5,153.2 41,151.1 50.5,148.7 60.1,146 64.7,144.6 69.6,142.7 79.1,138.6 88.6,134.2 89.4,133.9 98.1,123.7 98.6,123.2 98.1,122.3 93.1,112.4 88.6,110 79.1,104.9 72.8,101.7 69.6,100.6 60.1,97.5 50.5,94.6 41,92 37.1,91 31.5,89.6M31.5,40.6 39.1,37.4 41,36.2 50.5,30.1 55.3,26.6 59.9,15.9 54.8,5.2M304.2,5.2 303.9,15.9 302.8,26.6 301.1,37.4 298.8,48.1 298.1,50.6 295.2,58.8 290.3,69.6 288.6,72.9 284,80.3 279,88.5 277.3,91 271.2,101.7 269.5,107.2 267.5,112.4 267.6,123.2 269.5,128.5 271.2,133.9 276.8,144.6 279,148.2 282.7,155.4 288.4,166.1 288.6,166.4 293.1,176.8 297.6,187.5 298.1,188.9 301,198.2 303.3,209 304.2,219.7M49.6,219.7 41,213.7 33.4,209 31.5,208.2M31.5,151.5 41,149.1 50.5,146.4 56.3,144.6 60.1,143.1 69.6,139 79.1,134.4 80.2,133.9 88.6,123.6 89,123.2 88.6,122.4 83.8,112.4 79.1,109.8 69.6,104.5 64.3,101.7 60.1,100.3 50.5,97 41,94.1 31.5,91.6M31.5,38.3 33.6,37.4 41,32.9 49.9,26.6 50.5,25.2 55,15.9 50.5,7.2 49.6,5.2M307.6,31.3 306.7,37.4 304.4,48.1 301.3,58.8 298.1,66.8 296.8,69.6 291,80.3 288.6,85 284.9,91 279.9,101.7 279,105.1 276.9,112.4 277.2,123.2 279,128.9 280.4,133.9 285.2,144.6 288.6,151.2 290.3,155.4 295,166.1 298.1,173.3 299.3,176.8 303.1,187.5 306.4,198.2 307.6,203.9M45.1,219.7 41,216.9 31.5,210.7M31.5,149.7 41,147.1 48.9,144.6 50.5,143.9 60.1,139.8 69.6,135.3 72.4,133.9 79.1,125.4 80.9,123.2 79.1,119.6 75.8,112.5 69.6,108.8 60.1,103.5 56.8,101.7 50.5,99.5 41,96.3 31.5,93.4M307.6,56.3 306.9,58.8 302.5,69.6 298.1,79 297.4,80.3 291.7,91 288.6,99 287.3,101.7 284.8,112.4 285.3,123.2 288.4,133.9 288.6,134.2 292.5,144.6 297,155.3 298.1,157.8 301,166.1 304.8,176.8 307.6,184.8M31.5,35.7 41,29.6 45.2,26.6 50.1,15.9 45.1,5.2M40.6,219.7 31.5,213.4M31.5,148 41,145 42.4,144.6 50.5,141.1 60.1,136.6 65.5,133.9 69.6,128.6 73.9,123.2 69.6,114.4 68.7,112.4 60.1,107.2 50.5,102 50.1,101.7 41,98.4 31.5,95.3M307.6,70.5 302.9,80.3 298.1,90.9 298,91 293.8,101.7 291.8,112.4 292.4,123.2 295.2,133.9 298.1,141.4 299.1,144.6 302.9,155.3 306.6,166.1 307.6,168.9M31.5,32.9 40.6,26.6 41,25.7 45.9,15.9 41,6.2 40.6,5.2M36.7,219.7 31.5,216.1M31.5,146.2 36.6,144.6 41,142.7 50.5,138.3 59.2,133.9 60.1,132.7 67.5,123.2 62.6,112.4 60.1,110.9 50.5,105.2 44.3,101.7 41,100.5 31.5,97.1M307.6,81.8 303.4,91 299.7,101.7 298.2,112.5 298.9,123.2 301.4,133.9 304.9,144.6 307.6,152.4M31.5,30.1 36.6,26.6 41,17.2 41.7,15.9 41,14.6 36.7,5.2M32.8,219.7 31.5,218.8M31.5,144.5 41,140.3 50.5,135.5 53.7,133.9 60.1,125.4 61.8,123.2 60.1,119.6 57,112.4 50.5,108.5 41,102.9 38.9,101.7 31.5,98.9M307.6,94.2 305.1,101.7 303.6,112.4 304.5,123.2 307.1,133.9 307.6,135.4M31.5,27.4 32.5,26.6 38,15.9 32.8,5.2M31.5,142.4 41,137.8 48.6,133.9 50.5,131.2 56.6,123.2 51.8,112.4 50.5,111.7 41,105.8 34,101.7 31.5,100.8M31.5,21.5 34.4,15.9 31.5,10.1M31.5,140.3 41,135.4 43.9,133.9 50.5,124.8 51.8,123.2 50.5,120.5 47.2,112.4 41,108.6 31.5,102.9M31.5,138.2 39.5,133.9 41,131.8 47.5,123.2 42.7,112.4 41,111.4 31.5,105.4M31.5,136 35.5,133.9 41,126.3 43.3,123.2 41,118.1 38.7,112.5 31.5,107.8M31.5,133.9 31.6,133.9 39.5,123.2 34.9,112.4 31.5,110.2M31.5,129.2 36,123.2 31.5,113.1"/>
</g>
<g fill="#00ff00" stroke="#021f02" stroke-opacity="0.8" stroke-width="0.7"><circle cx="98.1" cy="219.7" r="2.15"/><circle cx="107.7" cy="219.7" r="2.15"/><circle cx="117.2" cy="219.7" r="2.15"/><circle cx="126.7" cy="219.7" r="2.15"/><circle cx="136.2" cy="219.7" r="2.15"/><circle cx="145.7" cy="219.7" r="2.15"/><circle cx="155.3" cy="219.7" r="2.15"/><circle cx="164.8" cy="219.7" r="2.15"/><circle cx="202.9" cy="219.7" r="2.15"/><circle cx="212.4" cy="219.7" r="2.15"/><circle cx="221.9" cy="219.7" r="2.15"/><circle cx="231.4" cy="219.7" r="2.15"/><circle cx="241" cy="219.7" r="2.15"/><circle cx="250.5" cy="219.7" r="2.15"/><circle cx="260" cy="219.7" r="2.15"/><circle cx="269.5" cy="219.7" r="2.15"/><circle cx="79.1" cy="209" r="2.15"/><circle cx="88.6" cy="209" r="2.15"/><circle cx="98.1" cy="209" r="2.15"/><circle cx="107.7" cy="209" r="2.15"/><circle cx="117.2" cy="209" r="2.15"/><circle cx="126.7" cy="209" r="2.15"/><circle cx="136.2" cy="209" r="2.15"/><circle cx="145.7" cy="209" r="2.15"/><circle cx="202.9" cy="209" r="2.15"/><circle cx="212.4" cy="209" r="2.15"/><circle cx="221.9" cy="209" r="2.15"/><circle cx="231.4" cy="209" r="2.15"/><circle cx="241" cy="209" r="2.15"/><circle cx="250.5" cy="209" r="2.15"/><circle cx="260" cy="209" r="2.15"/><circle cx="50.5" cy="198.2" r="2.15"/><circle cx="60.1" cy="198.2" r="2.15"/><circle cx="69.6" cy="198.2" r="2.15"/><circle cx="79.1" cy="198.2" r="2.15"/><circle cx="88.6" cy="198.2" r="2.15"/><circle cx="98.1" cy="198.2" r="2.15"/><circle cx="107.7" cy="198.2" r="2.15"/><circle cx="117.2" cy="198.2" r="2.15"/><circle cx="193.4" cy="198.2" r="2.15"/><circle cx="202.9" cy="198.2" r="2.15"/><circle cx="212.4" cy="198.2" r="2.15"/><circle cx="221.9" cy="198.2" r="2.15"/><circle cx="231.4" cy="198.2" r="2.15"/><circle cx="241" cy="198.2" r="2.15"/><circle cx="250.5" cy="198.2" r="2.15"/><circle cx="260" cy="198.2" r="2.15"/><circle cx="31.5" cy="187.5" r="2.15"/><circle cx="41" cy="187.5" r="2.15"/><circle cx="50.5" cy="187.5" r="2.15"/><circle cx="60.1" cy="187.5" r="2.15"/><circle cx="69.6" cy="187.5" r="2.15"/><circle cx="79.1" cy="187.5" r="2.15"/><circle cx="174.3" cy="187.5" r="2.15"/><circle cx="183.8" cy="187.5" r="2.15"/><circle cx="193.4" cy="187.5" r="2.15"/><circle cx="202.9" cy="187.5" r="2.15"/><circle cx="212.4" cy="187.5" r="2.15"/><circle cx="221.9" cy="187.5" r="2.15"/><circle cx="231.4" cy="187.5" r="2.15"/><circle cx="241" cy="187.5" r="2.15"/><circle cx="250.5" cy="187.5" r="2.15"/><circle cx="31.5" cy="176.8" r="2.15"/><circle cx="41" cy="176.8" r="2.15"/><circle cx="50.5" cy="176.8" r="2.15"/><circle cx="60.1" cy="176.8" r="2.15"/><circle cx="69.6" cy="176.8" r="2.15"/><circle cx="126.7" cy="176.8" r="2.15"/><circle cx="136.2" cy="176.8" r="2.15"/><circle cx="145.7" cy="176.8" r="2.15"/><circle cx="155.3" cy="176.8" r="2.15"/><circle cx="164.8" cy="176.8" r="2.15"/><circle cx="174.3" cy="176.8" r="2.15"/><circle cx="183.8" cy="176.8" r="2.15"/><circle cx="193.4" cy="176.8" r="2.15"/><circle cx="202.9" cy="176.8" r="2.15"/><circle cx="212.4" cy="176.8" r="2.15"/><circle cx="221.9" cy="176.8" r="2.15"/><circle cx="231.4" cy="176.8" r="2.15"/><circle cx="241" cy="176.8" r="2.15"/><circle cx="31.5" cy="166.1" r="2.15"/><circle cx="41" cy="166.1" r="2.15"/><circle cx="50.5" cy="166.1" r="2.15"/><circle cx="60.1" cy="166.1" r="2.15"/><circle cx="69.6" cy="166.1" r="2.15"/><circle cx="79.1" cy="166.1" r="2.15"/><circle cx="88.6" cy="166.1" r="2.15"/><circle cx="98.1" cy="166.1" r="2.15"/><circle cx="107.7" cy="166.1" r="2.15"/><circle cx="117.2" cy="166.1" r="2.15"/><circle cx="126.7" cy="166.1" r="2.15"/><circle cx="136.2" cy="166.1" r="2.15"/><circle cx="145.7" cy="166.1" r="2.15"/><circle cx="155.3" cy="166.1" r="2.15"/><circle cx="164.8" cy="166.1" r="2.15"/><circle cx="174.3" cy="166.1" r="2.15"/><circle cx="183.8" cy="166.1" r="2.15"/><circle cx="193.4" cy="166.1" r="2.15"/><circle cx="202.9" cy="166.1" r="2.15"/><circle cx="212.4" cy="166.1" r="2.15"/><circle cx="221.9" cy="166.1" r="2.15"/><circle cx="231.4" cy="166.1" r="2.15"/><circle cx="98.1" cy="155.3" r="2.15"/><circle cx="107.7" cy="155.3" r="2.15"/><circle cx="117.2" cy="155.3" r="2.15"/><circle cx="126.7" cy="155.3" r="2.15"/><circle cx="136.2" cy="155.3" r="2.15"/><circle cx="145.7" cy="155.3" r="2.15"/><circle cx="155.3" cy="155.3" r="2.15"/><circle cx="164.8" cy="155.3" r="2.15"/><circle cx="174.3" cy="155.3" r="2.15"/><circle cx="183.8" cy="155.3" r="2.15"/><circle cx="193.4" cy="155.3" r="2.15"/><circle cx="202.9" cy="155.3" r="2.15"/><circle cx="212.4" cy="155.3" r="2.15"/><circle cx="126.7" cy="91" r="2.15"/><circle cx="136.2" cy="91" r="2.15"/><circle cx="145.7" cy="91" r="2.15"/><circle cx="155.3" cy="91" r="2.15"/><circle cx="164.8" cy="91" r="2.15"/><circle cx="174.3" cy="91" r="2.15"/><circle cx="183.8" cy="91" r="2.15"/><circle cx="193.4" cy="91" r="2.15"/><circle cx="41" cy="80.3" r="2.15"/><circle cx="50.5" cy="80.3" r="2.15"/><circle cx="60.1" cy="80.3" r="2.15"/><circle cx="69.6" cy="80.3" r="2.15"/><circle cx="79.1" cy="80.3" r="2.15"/><circle cx="88.6" cy="80.3" r="2.15"/><circle cx="98.1" cy="80.3" r="2.15"/><circle cx="107.7" cy="80.3" r="2.15"/><circle cx="117.2" cy="80.3" r="2.15"/><circle cx="126.7" cy="80.3" r="2.15"/><circle cx="136.2" cy="80.3" r="2.15"/><circle cx="145.7" cy="80.3" r="2.15"/><circle cx="155.3" cy="80.3" r="2.15"/><circle cx="164.8" cy="80.3" r="2.15"/><circle cx="174.3" cy="80.3" r="2.15"/><circle cx="183.8" cy="80.3" r="2.15"/><circle cx="193.4" cy="80.3" r="2.15"/><circle cx="202.9" cy="80.3" r="2.15"/><circle cx="212.4" cy="80.3" r="2.15"/><circle cx="221.9" cy="80.3" r="2.15"/><circle cx="31.5" cy="69.6" r="2.15"/><circle cx="41" cy="69.6" r="2.15"/><circle cx="50.5" cy="69.6" r="2.15"/><circle cx="60.1" cy="69.6" r="2.15"/><circle cx="69.6" cy="69.6" r="2.15"/><circle cx="79.1" cy="69.6" r="2.15"/><circle cx="88.6" cy="69.6" r="2.15"/><circle cx="98.1" cy="69.6" r="2.15"/><circle cx="107.7" cy="69.6" r="2.15"/><circle cx="117.2" cy="69.6" r="2.15"/><circle cx="126.7" cy="69.6" r="2.15"/><circle cx="136.2" cy="69.6" r="2.15"/><circle cx="145.7" cy="69.6" r="2.15"/><circle cx="155.3" cy="69.6" r="2.15"/><circle cx="164.8" cy="69.6" r="2.15"/><circle cx="174.3" cy="69.6" r="2.15"/><circle cx="183.8" cy="69.6" r="2.15"/><circle cx="193.4" cy="69.6" r="2.15"/><circle cx="202.9" cy="69.6" r="2.15"/><circle cx="212.4" cy="69.6" r="2.15"/><circle cx="221.9" cy="69.6" r="2.15"/><circle cx="231.4" cy="69.6" r="2.15"/><circle cx="31.5" cy="58.8" r="2.15"/><circle cx="41" cy="58.8" r="2.15"/><circle cx="50.5" cy="58.8" r="2.15"/><circle cx="60.1" cy="58.8" r="2.15"/><circle cx="69.6" cy="58.8" r="2.15"/><circle cx="79.1" cy="58.8" r="2.15"/><circle cx="88.6" cy="58.8" r="2.15"/><circle cx="98.1" cy="58.8" r="2.15"/><circle cx="107.7" cy="58.8" r="2.15"/><circle cx="117.2" cy="58.8" r="2.15"/><circle cx="126.7" cy="58.8" r="2.15"/><circle cx="136.2" cy="58.8" r="2.15"/><circle cx="145.7" cy="58.8" r="2.15"/><circle cx="155.3" cy="58.8" r="2.15"/><circle cx="164.8" cy="58.8" r="2.15"/><circle cx="174.3" cy="58.8" r="2.15"/><circle cx="183.8" cy="58.8" r="2.15"/><circle cx="193.4" cy="58.8" r="2.15"/><circle cx="202.9" cy="58.8" r="2.15"/><circle cx="212.4" cy="58.8" r="2.15"/><circle cx="221.9" cy="58.8" r="2.15"/><circle cx="231.4" cy="58.8" r="2.15"/><circle cx="241" cy="58.8" r="2.15"/><circle cx="50.5" cy="48.1" r="2.15"/><circle cx="60.1" cy="48.1" r="2.15"/><circle cx="69.6" cy="48.1" r="2.15"/><circle cx="79.1" cy="48.1" r="2.15"/><circle cx="88.6" cy="48.1" r="2.15"/><circle cx="98.1" cy="48.1" r="2.15"/><circle cx="107.7" cy="48.1" r="2.15"/><circle cx="117.2" cy="48.1" r="2.15"/><circle cx="126.7" cy="48.1" r="2.15"/><circle cx="136.2" cy="48.1" r="2.15"/><circle cx="145.7" cy="48.1" r="2.15"/><circle cx="155.3" cy="48.1" r="2.15"/><circle cx="164.8" cy="48.1" r="2.15"/><circle cx="174.3" cy="48.1" r="2.15"/><circle cx="183.8" cy="48.1" r="2.15"/><circle cx="193.4" cy="48.1" r="2.15"/><circle cx="202.9" cy="48.1" r="2.15"/><circle cx="212.4" cy="48.1" r="2.15"/><circle cx="221.9" cy="48.1" r="2.15"/><circle cx="231.4" cy="48.1" r="2.15"/><circle cx="241" cy="48.1" r="2.15"/><circle cx="250.5" cy="48.1" r="2.15"/><circle cx="79.1" cy="37.4" r="2.15"/><circle cx="88.6" cy="37.4" r="2.15"/><circle cx="98.1" cy="37.4" r="2.15"/><circle cx="107.7" cy="37.4" r="2.15"/><circle cx="117.2" cy="37.4" r="2.15"/><circle cx="126.7" cy="37.4" r="2.15"/><circle cx="136.2" cy="37.4" r="2.15"/><circle cx="145.7" cy="37.4" r="2.15"/><circle cx="155.3" cy="37.4" r="2.15"/><circle cx="164.8" cy="37.4" r="2.15"/><circle cx="174.3" cy="37.4" r="2.15"/><circle cx="183.8" cy="37.4" r="2.15"/><circle cx="193.4" cy="37.4" r="2.15"/><circle cx="98.1" cy="26.6" r="2.15"/><circle cx="107.7" cy="26.6" r="2.15"/><circle cx="117.2" cy="26.6" r="2.15"/><circle cx="126.7" cy="26.6" r="2.15"/><circle cx="136.2" cy="26.6" r="2.15"/><circle cx="145.7" cy="26.6" r="2.15"/><circle cx="155.3" cy="26.6" r="2.15"/><circle cx="164.8" cy="26.6" r="2.15"/><circle cx="174.3" cy="26.6" r="2.15"/><circle cx="183.8" cy="26.6" r="2.15"/><circle cx="193.4" cy="26.6" r="2.15"/><circle cx="98.1" cy="15.9" r="2.15"/><circle cx="107.7" cy="15.9" r="2.15"/><circle cx="117.2" cy="15.9" r="2.15"/><circle cx="126.7" cy="15.9" r="2.15"/><circle cx="136.2" cy="15.9" r="2.15"/><circle cx="145.7" cy="15.9" r="2.15"/><circle cx="155.3" cy="15.9" r="2.15"/><circle cx="164.8" cy="15.9" r="2.15"/><circle cx="174.3" cy="15.9" r="2.15"/><circle cx="183.8" cy="15.9" r="2.15"/><circle cx="193.4" cy="15.9" r="2.15"/><circle cx="98.1" cy="5.2" r="2.15"/><circle cx="107.7" cy="5.2" r="2.15"/><circle cx="117.2" cy="5.2" r="2.15"/><circle cx="126.7" cy="5.2" r="2.15"/><circle cx="136.2" cy="5.2" r="2.15"/><circle cx="145.7" cy="5.2" r="2.15"/><circle cx="155.3" cy="5.2" r="2.15"/><circle cx="164.8" cy="5.2" r="2.15"/><circle cx="202.9" cy="5.2" r="2.15"/><circle cx="212.4" cy="5.2" r="2.15"/><circle cx="221.9" cy="5.2" r="2.15"/><circle cx="231.4" cy="5.2" r="2.15"/><circle cx="241" cy="5.2" r="2.15"/><circle cx="250.5" cy="5.2" r="2.15"/><circle cx="260" cy="5.2" r="2.15"/><circle cx="269.5" cy="5.2" r="2.15"/></g>
<g fill="#ff0000" stroke="#1f0202" stroke-opacity="0.8" stroke-width="0.7"><circle cx="174.3" cy="219.7" r="2.45"/><circle cx="183.8" cy="219.7" r="2.45"/><circle cx="193.4" cy="219.7" r="2.45"/><circle cx="155.3" cy="209" r="2.45"/><circle cx="164.8" cy="209" r="2.45"/><circle cx="174.3" cy="209" r="2.45"/><circle cx="183.8" cy="209" r="2.45"/><circle cx="193.4" cy="209" r="2.45"/><circle cx="126.7" cy="198.2" r="2.45"/><circle cx="136.2" cy="198.2" r="2.45"/><circle cx="145.7" cy="198.2" r="2.45"/><circle cx="155.3" cy="198.2" r="2.45"/><circle cx="164.8" cy="198.2" r="2.45"/><circle cx="174.3" cy="198.2" r="2.45"/><circle cx="183.8" cy="198.2" r="2.45"/><circle cx="88.6" cy="187.5" r="2.45"/><circle cx="98.1" cy="187.5" r="2.45"/><circle cx="107.7" cy="187.5" r="2.45"/><circle cx="117.2" cy="187.5" r="2.45"/><circle cx="126.7" cy="187.5" r="2.45"/><circle cx="136.2" cy="187.5" r="2.45"/><circle cx="145.7" cy="187.5" r="2.45"/><circle cx="155.3" cy="187.5" r="2.45"/><circle cx="164.8" cy="187.5" r="2.45"/><circle cx="79.1" cy="176.8" r="2.45"/><circle cx="88.6" cy="176.8" r="2.45"/><circle cx="98.1" cy="176.8" r="2.45"/><circle cx="107.7" cy="176.8" r="2.45"/><circle cx="117.2" cy="176.8" r="2.45"/><circle cx="174.3" cy="5.2" r="2.45"/><circle cx="183.8" cy="5.2" r="2.45"/><circle cx="193.4" cy="5.2" r="2.45"/></g>
<rect x="31.5" y="5.2" width="276.1" height="214.5" fill="none" stroke="#262626" stroke-width="0.6"/>
<text transform="translate(27.1,224.1) scale(0.925,1)" font-size="12" text-anchor="end">0</text>
<text transform="translate(27.1,190) scale(0.925,1)" font-size="12" text-anchor="end">1</text>
<text transform="translate(27.1,155.8) scale(0.925,1)" font-size="12" text-anchor="end">2</text>
<text transform="translate(27.1,121.7) scale(0.925,1)" font-size="12" text-anchor="end">3</text>
<text transform="translate(27.1,87.5) scale(0.925,1)" font-size="12" text-anchor="end">4</text>
<text transform="translate(27.1,53.4) scale(0.925,1)" font-size="12" text-anchor="end">5</text>
<text transform="translate(27.1,19.3) scale(0.925,1)" font-size="12" text-anchor="end">6</text>
<path d="M31.5,219.7 h2.6 M307.6,219.7 h-2.6 M31.5,185.6 h2.6 M307.6,185.6 h-2.6 M31.5,151.4 h2.6 M307.6,151.4 h-2.6 M31.5,117.3 h2.6 M307.6,117.3 h-2.6 M31.5,83.1 h2.6 M307.6,83.1 h-2.6 M31.5,49 h2.6 M307.6,49 h-2.6 M31.5,14.9 h2.6 M307.6,14.9 h-2.6 M31.5,219.7 v-2.6 M31.5,5.2 v2.6 M73.1,219.7 v-1.4 M73.1,5.2 v1.4 M97.4,219.7 v-1.4 M97.4,5.2 v1.4 M114.6,219.7 v-1.4 M114.6,5.2 v1.4 M128,219.7 v-1.4 M128,5.2 v1.4 M138.9,219.7 v-1.4 M138.9,5.2 v1.4 M148.2,219.7 v-1.4 M148.2,5.2 v1.4 M156.2,219.7 v-1.4 M156.2,5.2 v1.4 M163.2,219.7 v-1.4 M163.2,5.2 v1.4 M169.6,219.7 v-2.6 M169.6,5.2 v2.6 M211.1,219.7 v-1.4 M211.1,5.2 v1.4 M235.4,219.7 v-1.4 M235.4,5.2 v1.4 M252.7,219.7 v-1.4 M252.7,5.2 v1.4 M266,219.7 v-1.4 M266,5.2 v1.4 M277,219.7 v-1.4 M277,5.2 v1.4 M286.2,219.7 v-1.4 M286.2,5.2 v1.4 M294.2,219.7 v-1.4 M294.2,5.2 v1.4 M301.3,219.7 v-1.4 M301.3,5.2 v1.4" stroke="#1a1a1a" stroke-width="0.7" fill="none"/>
<text transform="translate(31.2,238.8) scale(0.925,1)" font-size="12" text-anchor="middle">10<tspan dy="-5" font-size="8.6">-1</tspan></text>
<text transform="translate(169.2,238.8) scale(0.925,1)" font-size="12" text-anchor="middle">10<tspan dy="-5" font-size="8.6">0</tspan></text>
<text transform="translate(307.3,238.8) scale(0.925,1)" font-size="12" text-anchor="middle">10<tspan dy="-5" font-size="8.6">1</tspan></text>
<rect x="201.6" y="7.4" width="102.9" height="33.6" fill="#fff" stroke="#262626" stroke-width="0.5"/>
<path d="M204,14.6 h27" stroke="#000" stroke-width="0.5"/>
<circle cx="217.9" cy="25" r="3.0" fill="#00ff00" stroke="#032a03" stroke-opacity="0.75" stroke-width="0.55"/>
<circle cx="217.9" cy="35.6" r="3.0" fill="#ff0000" stroke="#2a0303" stroke-opacity="0.75" stroke-width="0.55"/>
<text transform="translate(234.2,17) scale(0.925,1)" font-size="9">Contour line</text>
<text transform="translate(234.2,27.6) scale(0.925,1)" font-size="9">Favorable condition</text>
<text transform="translate(234.2,38.1) scale(0.925,1)" font-size="9">Optimal condition</text>
<rect x="313.5" y="5.1" width="13.300000000000011" height="219.6" fill="url(#pg)" stroke="#262626" stroke-width="0.5"/>
<text transform="translate(330.8,197.1) scale(0.925,1)" font-size="12">1</text>
<text transform="translate(330.8,163.5) scale(0.925,1)" font-size="12">2</text>
<text transform="translate(330.8,129.9) scale(0.925,1)" font-size="12">3</text>
<text transform="translate(330.8,96.3) scale(0.925,1)" font-size="12">4</text>
<text transform="translate(330.8,62.7) scale(0.925,1)" font-size="12">5</text>
<text transform="translate(330.8,29.1) scale(0.925,1)" font-size="12">6</text>
<path d="M326.8,192.6 h-2 M326.8,159 h-2 M326.8,125.4 h-2 M326.8,91.8 h-2 M326.8,58.2 h-2 M326.8,24.6 h-2" stroke="#262626" stroke-width="0.5" fill="none"/>
<text transform="translate(169.8,254) scale(0.925,1)" font-size="13.3" text-anchor="middle">Eccentricity ratio <tspan font-style="italic">e</tspan><tspan dy="6.2" font-size="9.6">1</tspan><tspan dy="-6.2">/</tspan><tspan font-style="italic">e</tspan><tspan dy="6.2" font-size="9.6">2</tspan></text>
<text transform="translate(10.3,195.2) rotate(-90) scale(1.0,0.925)" font-size="12.62">Initial phase difference</text>
<text transform="translate(10.3,74.7) rotate(-90) scale(1.0,0.95)" font-size="13.2">Δ</text>
<text transform="translate(10.3,64.2) rotate(-90) scale(1.0,0.95)" font-size="13.2"><tspan font-style="italic">ϕ</tspan></text>
<text transform="translate(10.3,53.3) rotate(-90) scale(1.0,0.925)" font-size="12.62">(rad)</text>
<g transform="translate(349.8,0.6) scale(0.9688,1)">
<clipPath id="cp1"><rect x="31.5" y="5.2" width="276.1" height="214.5"/></clipPath>
<g clip-path="url(#cp1)">
<path fill="#3e26a8" stroke="#3e26a8" stroke-width="0.6" d="M120.7,209 126.7,212.8 136.2,219.5 136.5,219.7 145.7,219.7 155.3,219.7 164.8,219.7 174.3,219.7 183.8,219.7 193.4,219.7 202.9,219.7 212.4,219.7 221.9,219.7 222.5,219.7 221.9,213.4 221.4,209 214.5,198.2 212.4,196.4 202.9,189.1 200.6,187.5 193.4,184.2 183.8,180.5 174.3,177.1 173.3,176.8 164.8,175.1 155.3,173.6 145.7,172.5 136.2,171.7 126.7,171.1 117.2,170.8 107.7,170.8 98.1,170.8 88.6,171.1 79.1,171.5 69.6,171.9 60.1,172.5 50.5,173.1 41,173.8 31.5,174.5 31.5,176.8 31.5,181.5 41,184.2 49.1,187.5 50.5,187.7 60.1,189.1 69.6,190.8 79.1,193.1 88.6,196.1 94.3,198.2 98.1,199.5 107.7,202.8 117.2,207.2 120.7,209ZM82.3,58.8 88.6,64.6 98.1,67.8 107.7,68.8 117.2,68.8 126.7,68.1 136.2,67 145.7,65.5 155.3,63.6 164.8,61.3 173,58.8 174.3,58 183.8,51.9 189.6,48.1 193.4,44.7 200.9,37.4 202.9,35.5 210.7,26.6 212.4,24.8 218.3,15.9 221.9,7.1 222.5,5.2 221.9,5.2 212.4,5.2 202.9,5.2 193.4,5.2 183.8,5.2 174.3,5.2 164.8,5.2 155.3,5.2 145.7,5.2 136.5,5.2 145.4,15.9 145.7,18.5 147.4,26.6 145.7,29.1 139.4,37.4 136.2,39.5 126.7,44.6 117.2,48.1 117.1,48.1 107.7,52.6 98.1,55.6 88.6,57.7 82.3,58.8Z"/>
<path fill="#4433cc" stroke="#4433cc" stroke-width="0.6" d="M100.4,209 107.7,213.7 115.9,219.7 117.2,219.7 126.7,219.7 136.2,219.7 136.5,219.7 136.2,219.5 126.7,212.8 120.7,209 117.2,207.2 107.7,202.8 98.1,199.5 94.3,198.2 88.6,196.1 79.1,193.1 69.6,190.8 60.1,189.1 50.5,187.7 49.1,187.5 41,184.2 31.5,181.5 31.5,187.5 31.5,188.5 41,190 50.5,191.9 60.1,194.2 69.6,197.1 72.7,198.2 79.1,200.2 88.6,203.6 98.1,207.9 100.4,209ZM221.4,209 221.9,213.4 222.5,219.7 231.4,219.7 241,219.7 243.1,219.7 241.6,209 241,207.5 236,198.2 231.4,193.1 225.8,187.5 221.9,184.7 212.4,178.7 209,176.8 202.9,174.2 193.4,170.8 183.8,168.1 174.7,166.1 174.3,166 164.8,164.7 155.3,163.8 145.7,163.3 136.2,163.1 126.7,163.1 117.2,163.3 107.7,163.6 98.1,164 88.6,164.5 79.1,165.1 69.6,165.6 62.1,166.1 60.1,166.3 50.5,167.4 41,168.5 31.5,169.7 31.5,174.5 41,173.8 50.5,173.1 60.1,172.5 69.6,171.9 79.1,171.5 88.6,171.1 98.1,170.8 107.7,170.8 117.2,170.8 126.7,171.1 136.2,171.7 145.7,172.5 155.3,173.6 164.8,175.1 173.3,176.8 174.3,177.1 183.8,180.5 193.4,184.2 200.6,187.5 202.9,189.1 212.4,196.4 214.5,198.2 221.4,209ZM31.5,69.6 31.5,69.9 41,71 50.5,72.1 60.1,73.2 69.6,74.3 79.1,75.4 88.6,76.4 98.1,77.3 107.7,78 117.2,78.6 126.7,78.9 136.2,78.9 145.7,78.6 155.3,77.8 164.8,76.6 174.3,74.9 183.8,72.5 193.3,69.6 193.4,69.5 202.9,64.4 212.1,58.8 212.4,58.6 221.9,49.3 223,48.1 230.8,37.4 231.4,36.4 236.7,26.6 241,16.9 241.3,15.9 243.1,5.2 241,5.2 231.4,5.2 222.5,5.2 221.9,7.1 218.3,15.9 212.4,24.8 210.7,26.6 202.9,35.5 200.9,37.4 193.4,44.7 189.6,48.1 183.8,51.9 174.3,58 173,58.8 164.8,61.3 155.3,63.6 145.7,65.5 136.2,67 126.7,68.1 117.2,68.8 107.7,68.8 98.1,67.8 88.6,64.6 82.3,58.8 88.6,57.7 98.1,55.6 107.7,52.6 117.1,48.1 117.2,48.1 126.7,44.6 136.2,39.5 139.4,37.4 145.7,29.1 147.4,26.6 145.7,18.5 145.4,15.9 136.5,5.2 136.2,5.2 126.7,5.2 117.2,5.2 115.9,5.2 117.2,7.3 122.9,15.9 121.4,26.6 117.2,30.8 109.5,37.4 107.7,38.4 98.1,43.1 88.6,46.7 84.2,48.1 79.1,50.1 69.6,53.3 60.1,55.7 50.5,57.6 43.2,58.8 41,61 31.5,67.8 31.5,69.6Z"/>
<path fill="#4743e7" stroke="#4743e7" stroke-width="0.6" d="M86.1,209 88.6,210.6 98.1,217 101.8,219.7 107.7,219.7 115.9,219.7 107.7,213.7 100.4,209 98.1,207.9 88.6,203.6 79.1,200.2 72.7,198.2 69.6,197.1 60.1,194.2 50.5,191.9 41,190 31.5,188.5 31.5,191.3 41,193.4 50.5,196 57.6,198.2 60.1,199 69.6,202 79.1,205.7 86.1,209ZM243.1,219.7 250.5,219.7 257.3,219.7 255.8,209 251.3,198.2 250.5,197.1 243.1,187.5 241,185.3 231.4,177.1 231.1,176.8 221.9,171.1 212.4,166.3 211.9,166.1 202.9,162.7 193.4,160.1 183.8,158.1 174.3,156.8 164.8,156 155.3,155.7 145.7,155.7 136.2,156.1 126.7,156.6 117.2,157.3 107.7,158.2 98.1,159.1 88.6,160.1 79.1,161.1 69.6,162.1 60.1,163.1 50.5,164 41,164.8 31.5,165.6 31.5,166.1 31.5,169.7 41,168.5 50.5,167.4 60.1,166.3 62.1,166.1 69.6,165.6 79.1,165.1 88.6,164.5 98.1,164 107.7,163.6 117.2,163.3 126.7,163.1 136.2,163.1 145.7,163.3 155.3,163.8 164.8,164.7 174.3,166 174.7,166.1 183.8,168.1 193.4,170.8 202.9,174.2 209,176.8 212.4,178.7 221.9,184.7 225.8,187.5 231.4,193.1 236,198.2 241,207.5 241.6,209 243.1,219.7ZM68.4,80.3 69.6,80.4 79.1,81.4 88.6,82.4 98.1,83.4 107.7,84.4 117.2,85.3 126.7,86.1 136.2,86.7 145.7,87.1 155.3,87.1 164.8,86.6 174.3,85.7 183.8,84.2 193.4,82 199,80.3 202.9,78.8 212.4,74.5 221.3,69.6 221.9,69.1 231.4,61.2 233.9,58.8 241,50 242.3,48.1 248.2,37.4 250.5,32.6 252.8,26.6 256,15.9 257.3,5.2 250.5,5.2 243.1,5.2 241.3,15.9 241,16.9 236.7,26.6 231.4,36.4 230.8,37.4 223,48.1 221.9,49.3 212.4,58.6 212.1,58.8 202.9,64.4 193.4,69.5 193.3,69.6 183.8,72.5 174.3,74.9 164.8,76.6 155.3,77.8 145.7,78.6 136.2,78.9 126.7,78.9 117.2,78.6 107.7,78 98.1,77.3 88.6,76.4 79.1,75.4 69.6,74.3 60.1,73.2 50.5,72.1 41,71 31.5,69.9 31.5,74 41,75.5 50.5,77.1 60.1,78.8 68.4,80.3ZM31.5,58.8 31.5,67.8 41,61 43.2,58.8 50.5,57.6 60.1,55.7 69.6,53.3 79.1,50.1 84.2,48.1 88.6,46.7 98.1,43.1 107.7,38.4 109.5,37.4 117.2,30.8 121.4,26.6 122.9,15.9 117.2,7.3 115.9,5.2 107.7,5.2 101.8,5.2 107.7,15.6 107.8,15.9 107.7,16.6 105.3,26.6 98.1,32.8 92,37.4 88.6,39.1 79.1,43.3 69.6,46.7 64.9,48.1 60.1,49.8 50.5,52.9 41,55.2 31.5,57.1 31.5,58.8Z"/>
<path fill="#4755f6" stroke="#4755f6" stroke-width="0.6" d="M74.9,209 79.1,211.6 88.6,218.3 90.6,219.7 98.1,219.7 101.8,219.7 98.1,217 88.6,210.6 86.1,209 79.1,205.7 69.6,202 60.1,199 57.6,198.3 50.5,196 41,193.4 31.5,191.3 31.5,194.1 41,196.8 45.7,198.2 50.5,199.7 60.1,202.8 69.6,206.6 74.9,209ZM257.3,219.7 260,219.7 268.5,219.7 267,209 263,198.2 260,193 256.4,187.5 250.5,180.5 246.9,176.8 241,171.5 233.6,166.1 231.4,164.6 221.9,159.3 212.8,155.3 212.4,155.1 202.9,151.9 193.4,149.7 183.8,148.2 174.3,147.5 164.8,147.4 155.3,147.7 145.7,148.4 136.2,149.3 126.7,150.5 117.2,151.7 107.7,153 98.1,154.4 91.1,155.3 88.6,155.7 79.1,157.2 69.6,158.6 60.1,159.9 50.5,161.2 41,162.4 31.5,163.4 31.5,165.6 41,164.8 50.5,164 60.1,163.1 69.6,162.1 79.1,161.1 88.6,160.1 98.1,159.1 107.7,158.2 117.2,157.3 126.7,156.6 136.2,156.1 145.7,155.7 155.3,155.7 164.8,156 174.3,156.8 183.8,158.1 193.4,160.1 202.9,162.7 211.9,166.1 212.4,166.3 221.9,171.1 231.1,176.8 231.4,177.1 241,185.3 243.1,187.5 250.5,197.1 251.3,198.2 255.8,209 257.3,219.7ZM114.1,91 117.2,91.5 126.7,92.8 136.2,94 145.7,95 155.3,95.7 164.8,96 174.3,95.7 183.8,94.7 193.4,93 200.3,91 202.9,90.3 212.4,86.8 221.9,82.2 225.2,80.3 231.4,76.2 239.9,69.6 241,68.6 249.8,58.8 250.5,57.8 256.4,48.1 260,40.6 261.3,37.4 264.9,26.6 267.5,15.9 268.5,5.2 260,5.2 257.3,5.2 256,15.9 252.8,26.6 250.5,32.6 248.2,37.4 242.3,48.1 241,50 233.9,58.8 231.4,61.2 221.9,69.1 221.3,69.6 212.4,74.5 202.9,78.8 199,80.3 193.4,82 183.8,84.2 174.3,85.7 164.8,86.6 155.3,87.1 145.7,87.1 136.2,86.7 126.7,86.1 117.2,85.3 107.7,84.4 98.1,83.4 88.6,82.4 79.1,81.4 69.6,80.4 68.4,80.3 60.1,78.8 50.5,77.1 41,75.5 31.5,74 31.5,78 41,80 42.2,80.3 50.5,81.3 60.1,82.6 69.6,84 79.1,85.4 88.6,86.9 98.1,88.5 107.7,90 114.1,91ZM31.5,53.9 31.5,57.1 41,55.2 50.5,52.9 60.1,49.8 64.9,48.1 69.6,46.7 79.1,43.3 88.6,39.1 92,37.4 98.1,32.8 105.3,26.6 107.7,16.6 107.8,15.9 107.7,15.6 101.8,5.2 98.1,5.2 90.6,5.2 96.5,15.9 93.2,26.6 88.6,30.4 79.1,37.2 78.8,37.4 69.6,41.7 60.1,45.2 50.5,48.1 50.5,48.1 41,51.3 31.5,53.9Z"/>
<path fill="#4367fd" stroke="#4367fd" stroke-width="0.6" d="M65.6,209 69.6,211.5 79.1,218 81.4,219.7 88.6,219.7 90.6,219.7 88.6,218.3 79.1,211.6 74.9,209 69.6,206.6 60.1,202.8 50.5,199.7 45.7,198.2 41,196.8 31.5,194.1 31.5,196.9 35.9,198.2 41,199.7 50.5,202.8 60.1,206.5 65.6,209ZM268.5,219.7 269.5,219.7 277.7,219.7 276.4,209 272.8,198.2 269.5,191.5 267.2,187.5 260,177.3 259.6,176.8 250.5,167 249.4,166.1 241,158.9 235.6,155.3 231.4,152.4 221.9,147.1 215.8,144.6 212.4,142.9 202.9,139.4 193.4,137.2 183.8,136.2 174.3,136.2 164.8,136.9 155.3,138.2 145.7,140 136.2,142.1 126.7,144.3 125.6,144.6 117.2,146.2 107.7,148.1 98.1,150 88.6,151.8 79.1,153.5 69.6,155.1 68.1,155.3 60.1,156.8 50.5,158.4 41,159.9 31.5,161.3 31.5,163.4 41,162.4 50.5,161.2 60.1,159.9 69.6,158.6 79.1,157.2 88.6,155.7 91.1,155.3 98.1,154.4 107.7,153 117.2,151.7 126.7,150.5 136.2,149.3 145.7,148.4 155.3,147.7 164.8,147.4 174.3,147.5 183.8,148.2 193.4,149.7 202.9,151.9 212.4,155.1 212.8,155.3 221.9,159.3 231.4,164.6 233.6,166.1 241,171.5 246.9,176.8 250.5,180.5 256.4,187.5 260,193 263,198.2 267,209 268.5,219.7ZM139.2,101.7 145.7,103.4 155.3,105.4 164.8,106.8 174.3,107.5 183.8,107.2 193.4,105.7 202.9,102.7 204.9,101.7 212.4,99.1 221.9,94.5 227.5,91 231.4,88.7 241,81.8 242.8,80.3 250.5,73.2 253.9,69.6 260,61.8 262,58.8 267.7,48.1 269.5,43.8 271.8,37.4 274.8,26.6 277,15.9 277.7,5.2 269.5,5.2 268.5,5.2 267.5,15.9 264.9,26.6 261.3,37.4 260,40.6 256.4,48.1 250.5,57.8 249.8,58.8 241,68.6 239.9,69.6 231.4,76.2 225.2,80.3 221.9,82.2 212.4,86.8 202.9,90.3 200.3,91 193.4,93 183.8,94.7 174.3,95.7 164.8,96 155.3,95.7 145.7,95 136.2,94 126.7,92.8 117.2,91.5 114.1,91 107.7,90 98.1,88.5 88.6,86.9 79.1,85.4 69.6,84 60.1,82.6 50.5,81.3 42.2,80.3 41,80 31.5,78 31.5,80.3 31.5,81.2 41,82.5 50.5,84.1 60.1,85.7 69.6,87.5 79.1,89.4 86.8,91 88.6,91.4 98.1,93.3 107.7,95.3 117.2,97.4 126.7,99.4 136.2,101.2 139.2,101.7ZM31.5,50.7 31.5,53.9 41,51.3 50.5,48.1 50.5,48.1 60.1,45.2 69.6,41.7 78.8,37.4 79.1,37.2 88.6,30.4 93.2,26.6 96.5,15.9 90.6,5.2 88.6,5.2 81.4,5.2 87,15.9 83.3,26.6 79.1,29.9 69.6,36.6 68.4,37.4 60.1,41.1 50.5,44.7 41,47.6 39.4,48.1 31.5,50.7Z"/>
<path fill="#347afd" stroke="#347afd" stroke-width="0.6" d="M57.6,209 60.1,210.5 69.6,216.9 73.5,219.7 79.1,219.7 81.4,219.7 79.1,218 69.6,211.5 65.6,209 60.1,206.5 50.5,202.8 41,199.7 35.9,198.2 31.5,196.9 31.5,198.2 31.5,199.4 41,202.3 50.5,205.9 57.6,209ZM277.7,219.7 279,219.7 285.5,219.7 284.3,209 281.3,198.2 279,193 276.3,187.5 269.9,176.8 269.5,176.1 261.7,166.1 260,163.9 251.7,155.3 250.5,154.1 241,145.8 239.3,144.6 231.4,137.8 225.5,133.9 221.9,129.1 216.1,123.2 220,112.4 221.9,111.2 231.4,102.5 232.1,101.7 241,94.7 244.7,91 250.5,86 256.1,80.3 260,76.1 265.3,69.6 269.5,63.4 272.2,58.8 277.2,48.1 279,42.8 280.7,37.4 283.2,26.6 285,15.9 285.5,5.2 279,5.2 277.7,5.2 277,15.9 274.8,26.6 271.8,37.4 269.5,43.8 267.7,48.1 262,58.8 260,61.8 253.9,69.6 250.5,73.2 242.8,80.3 241,81.8 231.4,88.7 227.5,91 221.9,94.5 212.4,99.1 204.9,101.7 202.9,102.7 193.4,105.7 183.8,107.2 174.3,107.5 164.8,106.8 155.3,105.4 145.7,103.4 139.2,101.7 136.2,101.2 126.7,99.4 117.2,97.4 107.7,95.3 98.1,93.3 88.6,91.4 86.8,91 79.1,89.4 69.6,87.5 60.1,85.7 50.5,84.1 41,82.5 31.5,81.2 31.5,83.3 41,84.9 50.5,86.8 60.1,88.8 69.4,91 69.6,91 79.1,93.2 88.6,95.5 98.1,98 107.7,100.6 112.1,101.7 117.2,103.7 126.7,107.4 136.2,110.9 140.7,112.4 145.7,118.6 150.2,123.2 145.7,126 136.2,132.9 135,133.9 126.7,136.6 117.2,139.7 107.7,142.9 102.3,144.6 98.1,145.6 88.6,147.9 79.1,150.1 69.6,152.1 60.1,153.9 52.2,155.3 50.5,155.7 41,157.5 31.5,159.2 31.5,161.3 41,159.9 50.5,158.4 60.1,156.8 68.1,155.3 69.6,155.1 79.1,153.5 88.6,151.8 98.1,150 107.7,148.1 117.2,146.2 125.6,144.6 126.7,144.3 136.2,142.1 145.7,140 155.3,138.2 164.8,136.9 174.3,136.2 183.8,136.2 193.4,137.2 202.9,139.4 212.4,142.9 215.8,144.6 221.9,147.1 231.4,152.4 235.6,155.3 241,158.9 249.4,166.1 250.5,167 259.6,176.8 260,177.3 267.2,187.5 269.5,191.5 272.8,198.2 276.4,209 277.7,219.7ZM31.5,48.1 31.5,50.7 39.4,48.1 41,47.6 50.5,44.7 60.1,41.1 68.4,37.4 69.6,36.6 79.1,29.9 83.3,26.6 87,15.9 81.4,5.2 79.1,5.2 73.5,5.2 78.9,15.9 74.9,26.6 69.6,30.7 60.1,37 59.5,37.4 50.5,41.3 41,44.8 31.5,47.7 31.5,48.1Z"/>
<path fill="#2d8cf3" stroke="#2d8cf3" stroke-width="0.6" d="M50.4,209 50.5,209.1 60.1,215.1 66.6,219.7 69.6,219.7 73.5,219.7 69.6,216.9 60.1,210.5 57.6,209 50.5,205.9 41,202.3 31.5,199.4 31.5,201.6 41,205 50.4,209ZM285.5,219.7 288.6,219.7 292.4,219.7 291.4,209 288.7,198.2 288.6,197.8 284.2,187.5 279,177.2 278.8,176.8 271.9,166.1 269.5,162.4 263.9,155.3 260,150.2 254.8,144.6 250.5,138.9 245.9,133.9 241,123.8 240.6,123.2 241,120.3 241.8,112.4 248.6,101.7 250.5,99.9 257.8,91 260,88.8 267,80.3 269.5,77.1 274.8,69.6 279,62.5 281,58.8 285.2,48.1 288.4,37.4 288.6,36.8 290.5,26.6 292,15.9 292.4,5.2 288.6,5.2 285.5,5.2 285,15.9 283.2,26.6 280.7,37.4 279,42.8 277.2,48.1 272.2,58.8 269.5,63.4 265.3,69.6 260,76.1 256.1,80.3 250.5,86 244.7,91 241,94.7 232.1,101.7 231.4,102.5 221.9,111.2 220,112.4 216.1,123.2 221.9,129.1 225.5,133.9 231.4,137.8 239.3,144.6 241,145.8 250.5,154.1 251.7,155.3 260,163.9 261.7,166.1 269.5,176.1 269.9,176.8 276.3,187.5 279,193 281.3,198.2 284.3,209 285.5,219.7ZM31.5,157 31.5,159.2 41,157.5 50.5,155.7 52.2,155.3 60.1,153.9 69.6,152.1 79.1,150.1 88.6,147.9 98.1,145.6 102.3,144.6 107.7,142.9 117.2,139.7 126.7,136.6 135,133.9 136.2,132.9 145.7,126 150.2,123.2 145.7,118.6 140.7,112.4 136.2,110.9 126.7,107.4 117.2,103.7 112.1,101.7 107.7,100.6 98.1,98 88.6,95.5 79.1,93.2 69.6,91 69.4,91 60.1,88.8 50.5,86.8 41,84.9 31.5,83.3 31.5,85.4 41,87.3 50.5,89.5 56.6,91 60.1,91.9 69.6,94.2 79.1,96.8 88.6,99.7 95.4,101.7 98.1,103 107.7,107.2 117.2,111.7 118.9,112.4 125.8,123.2 117.2,131.4 114.8,133.9 107.7,136.7 98.1,140.4 88.6,143.9 86.6,144.6 79.1,146.6 69.6,149.1 60.1,151.3 50.5,153.3 41,155.1 39.8,155.3 31.5,157ZM31.5,45.3 31.5,47.7 41,44.8 50.5,41.3 59.5,37.4 60.1,37 69.6,30.7 74.9,26.6 78.9,15.9 73.5,5.2 69.6,5.2 66.6,5.2 69.6,11.4 72,15.9 69.6,21.6 67.5,26.6 60.1,32.2 51.9,37.4 50.5,38 41,42 31.5,45.3Z"/>
<path fill="#259ce7" stroke="#259ce7" stroke-width="0.6" d="M44.3,209 50.5,212.9 60.1,219.6 60.2,219.7 66.6,219.7 60.1,215.1 50.5,209.1 50.4,209 41,205 31.5,201.6 31.5,203.8 41,207.6 44.3,209ZM292.4,219.7 298.1,219.7 298.8,219.7 298.1,211.9 297.8,209 295.1,198.2 291.2,187.5 288.6,181.2 286.4,176.8 280.7,166.1 279,163 274.1,155.3 269.5,148 266.9,144.6 260.2,133.9 260,133.3 255.8,123.2 256.2,112.4 260,104.6 261.1,101.7 268.4,91 269.5,89.7 276.1,80.3 279,76.1 283.1,69.6 288.6,59 288.7,58.8 292.3,48.1 295,37.4 297.1,26.6 298.1,19.1 298.4,15.9 298.8,5.2 298.1,5.2 292.4,5.2 292,15.9 290.5,26.6 288.6,36.8 288.4,37.4 285.2,48.1 281,58.8 279,62.5 274.8,69.6 269.5,77.1 267,80.3 260,88.8 257.8,91 250.5,99.9 248.6,101.7 241.8,112.4 241,120.3 240.6,123.2 241,123.8 245.9,133.9 250.5,138.9 254.8,144.6 260,150.2 263.9,155.3 269.5,162.4 271.9,166.1 278.8,176.8 279,177.2 284.2,187.5 288.6,197.8 288.7,198.2 291.4,209 292.4,219.7ZM31.5,155.3 31.5,157 39.8,155.3 41,155.1 50.5,153.3 60.1,151.3 69.6,149.1 79.1,146.6 86.6,144.6 88.6,143.9 98.1,140.4 107.7,136.7 114.8,133.9 117.2,131.4 125.8,123.2 118.9,112.4 117.2,111.7 107.7,107.2 98.1,103 95.4,101.7 88.6,99.7 79.1,96.8 69.6,94.2 60.1,91.9 56.6,91 50.5,89.5 41,87.3 31.5,85.4 31.5,87.5 41,89.7 46,91 50.5,92.1 60.1,94.7 69.6,97.4 79.1,100.5 83,101.7 88.6,104.5 98.1,109.2 104.4,112.4 107.7,118.5 110.5,123.2 107.7,126.1 100.6,133.9 98.1,134.9 88.6,139.1 79.1,142.9 74.6,144.6 69.6,146 60.1,148.6 50.5,151 41,153.1 31.5,155 31.5,155.3ZM31.5,43 31.5,45.3 41,42 50.5,38 51.9,37.4 60.1,32.2 67.5,26.6 69.6,21.6 72,15.9 69.6,11.4 66.6,5.2 60.2,5.2 65.8,15.9 61,26.6 60.1,27.3 50.5,34.1 45.2,37.4 41,39.2 31.5,43Z"/>
<path fill="#1caadf" stroke="#1caadf" stroke-width="0.6" d="M38.6,209 41,210.5 50.5,216.7 54.8,219.7 60.1,219.7 60.2,219.7 60.1,219.6 50.5,212.9 44.3,209 41,207.6 31.5,203.8 31.5,206 38.6,209ZM297.8,209 298.1,211.9 298.8,219.7 304.2,219.7 303.3,209 301,198.2 298.1,188.9 297.6,187.5 293.1,176.8 288.6,166.4 288.4,166.1 282.7,155.3 279,148.2 276.8,144.6 271.2,133.9 269.5,128.5 267.6,123.2 267.5,112.4 269.5,107.2 271.2,101.7 277.3,91 279,88.5 284,80.3 288.6,72.9 290.3,69.6 295.2,58.8 298.1,50.6 298.8,48.1 301.1,37.4 302.8,26.6 303.9,15.9 304.2,5.2 298.8,5.2 298.4,15.9 298.1,19.1 297.1,26.6 295,37.4 292.3,48.1 288.7,58.8 288.6,59 283.1,69.6 279,76.1 276.1,80.3 269.5,89.7 268.4,91 261.1,101.7 260,104.6 256.2,112.4 255.8,123.2 260,133.3 260.2,133.9 266.9,144.6 269.5,148 274.1,155.3 279,163 280.7,166.1 286.4,176.8 288.6,181.2 291.2,187.5 295.1,198.2 297.8,209ZM31.5,153.2 31.5,155 41,153.1 50.5,151 60.1,148.6 69.6,146 74.6,144.6 79.1,142.9 88.6,139.1 98.1,134.9 100.6,133.9 107.7,126.1 110.5,123.2 107.7,118.5 104.4,112.4 98.1,109.2 88.6,104.5 83,101.7 79.1,100.5 69.6,97.4 60.1,94.7 50.5,92.1 46,91 41,89.7 31.5,87.5 31.5,89.6 37.1,91 41,92 50.5,94.6 60.1,97.5 69.6,100.6 72.8,101.7 79.1,104.9 88.6,110 93.1,112.4 98.1,122.3 98.6,123.2 98.1,123.7 89.4,133.9 88.6,134.2 79.1,138.6 69.6,142.7 64.7,144.6 60.1,146 50.5,148.7 41,151.1 31.5,153.2ZM31.5,40.6 31.5,43 41,39.2 45.2,37.4 50.5,34.1 60.1,27.3 61,26.6 65.8,15.9 60.2,5.2 60.1,5.2 54.8,5.2 59.9,15.9 55.3,26.6 50.5,30.1 41,36.2 39.1,37.4 31.5,40.6Z"/>
<path fill="#05b6ce" stroke="#05b6ce" stroke-width="0.6" d="M33.4,209 41,213.7 49.6,219.7 50.5,219.7 54.8,219.7 50.5,216.7 41,210.5 38.6,209 31.5,206 31.5,208.2 33.4,209ZM304.2,219.7 307.6,219.7 307.6,209 307.6,203.9 306.4,198.2 303.1,187.5 299.3,176.8 298.1,173.3 295,166.1 290.3,155.3 288.6,151.2 285.2,144.6 280.4,133.9 279,128.9 277.2,123.2 276.9,112.4 279,105.1 279.9,101.7 284.9,91 288.6,85 291,80.3 296.8,69.6 298.1,66.8 301.3,58.8 304.4,48.1 306.7,37.4 307.6,31.3 307.6,26.6 307.6,15.9 307.6,5.2 304.2,5.2 303.9,15.9 302.8,26.6 301.1,37.4 298.8,48.1 298.1,50.6 295.2,58.8 290.3,69.6 288.6,72.9 284,80.3 279,88.5 277.3,91 271.2,101.7 269.5,107.2 267.5,112.4 267.6,123.2 269.5,128.5 271.2,133.9 276.8,144.6 279,148.2 282.7,155.3 288.4,166.1 288.6,166.4 293.1,176.8 297.6,187.5 298.1,188.9 301,198.2 303.3,209 304.2,219.7ZM31.5,151.5 31.5,153.2 41,151.1 50.5,148.7 60.1,146 64.7,144.6 69.6,142.7 79.1,138.6 88.6,134.2 89.4,133.9 98.1,123.7 98.6,123.2 98.1,122.3 93.1,112.4 88.6,110 79.1,104.9 72.8,101.7 69.6,100.6 60.1,97.5 50.5,94.6 41,92 37.1,91 31.5,89.6 31.5,91 31.5,91.6 41,94.1 50.5,97 60.1,100.3 64.3,101.7 69.6,104.5 79.1,109.8 83.8,112.4 88.6,122.4 89,123.2 88.6,123.6 80.2,133.9 79.1,134.4 69.6,139 60.1,143.1 56.3,144.6 50.5,146.4 41,149.1 31.5,151.5ZM31.5,38.3 31.5,40.6 39.1,37.4 41,36.2 50.5,30.1 55.3,26.6 59.9,15.9 54.8,5.2 50.5,5.2 49.6,5.2 50.5,7.2 55,15.9 50.5,25.2 49.9,26.6 41,32.9 33.6,37.4 31.5,38.3Z"/>
<path fill="#12beb9" stroke="#12beb9" stroke-width="0.6" d="M31.5,209 31.5,210.7 41,216.9 45.1,219.7 49.6,219.7 41,213.7 33.4,209 31.5,208.2 31.5,209ZM306.4,198.2 307.6,203.9 307.6,198.2 307.6,187.5 307.6,184.8 304.8,176.8 301,166.1 298.1,157.8 297,155.3 292.5,144.6 288.6,134.2 288.4,133.9 285.3,123.2 284.8,112.4 287.3,101.7 288.6,99 291.7,91 297.4,80.3 298.1,79 302.5,69.6 306.9,58.8 307.6,56.3 307.6,48.1 307.6,37.4 307.6,31.3 306.7,37.4 304.4,48.1 301.3,58.8 298.1,66.8 296.8,69.6 291,80.3 288.6,85 284.9,91 279.9,101.7 279,105.1 276.9,112.4 277.2,123.2 279,128.9 280.4,133.9 285.2,144.6 288.6,151.2 290.3,155.3 295,166.1 298.1,173.3 299.3,176.8 303.1,187.5 306.4,198.2ZM31.5,149.7 31.5,151.5 41,149.1 50.5,146.4 56.3,144.6 60.1,143.1 69.6,139 79.1,134.4 80.2,133.9 88.6,123.6 89,123.2 88.6,122.4 83.8,112.4 79.1,109.8 69.6,104.5 64.3,101.7 60.1,100.3 50.5,97 41,94.1 31.5,91.6 31.5,93.4 41,96.3 50.5,99.5 56.8,101.7 60.1,103.5 69.6,108.8 75.8,112.4 79.1,119.6 80.9,123.2 79.1,125.4 72.4,133.9 69.6,135.3 60.1,139.8 50.5,143.9 48.9,144.6 41,147.1 31.5,149.7ZM31.5,37.4 31.5,38.3 33.6,37.4 41,32.9 49.9,26.6 50.5,25.2 55,15.9 50.5,7.2 49.6,5.2 45.1,5.2 50.1,15.9 45.2,26.6 41,29.6 31.5,35.7 31.5,37.4Z"/>
<path fill="#2fc5a2" stroke="#2fc5a2" stroke-width="0.6" d="M40.6,219.7 41,219.7 45.1,219.7 41,216.9 31.5,210.7 31.5,213.4 40.6,219.7ZM304.8,176.8 307.6,184.8 307.6,176.8 307.6,168.9 306.6,166.1 302.9,155.3 299.1,144.6 298.1,141.4 295.2,133.9 292.4,123.2 291.8,112.4 293.8,101.7 298,91 298.1,90.9 302.9,80.3 307.6,70.5 307.6,69.6 307.6,58.8 307.6,56.3 306.9,58.8 302.5,69.6 298.1,79 297.4,80.3 291.7,91 288.6,99 287.3,101.7 284.8,112.4 285.3,123.2 288.4,133.9 288.6,134.2 292.5,144.6 297,155.3 298.1,157.8 301,166.1 304.8,176.8ZM31.5,148 31.5,149.7 41,147.1 48.9,144.6 50.5,143.9 60.1,139.8 69.6,135.3 72.4,133.9 79.1,125.4 80.9,123.2 79.1,119.6 75.8,112.4 69.6,108.8 60.1,103.5 56.8,101.7 50.5,99.5 41,96.3 31.5,93.4 31.5,95.3 41,98.4 50.1,101.7 50.5,102 60.1,107.2 68.7,112.4 69.6,114.4 73.9,123.2 69.6,128.6 65.5,133.9 60.1,136.6 50.5,141.1 42.4,144.6 41,145 31.5,148ZM31.5,32.9 31.5,35.7 41,29.6 45.2,26.6 50.1,15.9 45.1,5.2 41,5.2 40.6,5.2 41,6.2 45.9,15.9 41,25.7 40.6,26.6 31.5,32.9Z"/>
<path fill="#48cb86" stroke="#48cb86" stroke-width="0.6" d="M36.7,219.7 40.6,219.7 31.5,213.4 31.5,216.1 36.7,219.7ZM306.6,166.1 307.6,168.9 307.6,166.1 307.6,155.3 307.6,152.4 304.9,144.6 301.4,133.9 298.9,123.2 298.2,112.4 299.7,101.7 303.4,91 307.6,81.8 307.6,80.3 307.6,70.5 302.9,80.3 298.1,90.9 298,91 293.8,101.7 291.8,112.4 292.4,123.2 295.2,133.9 298.1,141.4 299.1,144.6 302.9,155.3 306.6,166.1ZM31.5,146.2 31.5,148 41,145 42.4,144.6 50.5,141.1 60.1,136.6 65.5,133.9 69.6,128.6 73.9,123.2 69.6,114.4 68.7,112.5 60.1,107.2 50.5,102 50.1,101.7 41,98.4 31.5,95.3 31.5,97.1 41,100.5 44.3,101.7 50.5,105.2 60.1,110.9 62.6,112.4 67.5,123.2 60.1,132.7 59.2,133.9 50.5,138.3 41,142.7 36.6,144.6 31.5,146.2ZM31.5,30.1 31.5,32.9 40.6,26.6 41,25.7 45.9,15.9 41,6.2 40.6,5.2 36.7,5.2 41,14.6 41.7,15.9 41,17.2 36.6,26.6 31.5,30.1Z"/>
<path fill="#71cd64" stroke="#71cd64" stroke-width="0.6" d="M32.8,219.7 36.7,219.7 31.5,216.1 31.5,218.8 32.8,219.7ZM31.5,144.6 31.5,146.2 36.6,144.6 41,142.7 50.5,138.3 59.2,133.9 60.1,132.7 67.5,123.2 62.6,112.4 60.1,110.9 50.5,105.2 44.3,101.7 41,100.5 31.5,97.1 31.5,98.9 38.9,101.7 41,102.9 50.5,108.5 57,112.4 60.1,119.6 61.8,123.2 60.1,125.4 53.7,133.9 50.5,135.5 41,140.3 31.5,144.5 31.5,144.6ZM304.9,144.6 307.6,152.4 307.6,144.6 307.6,135.4 307.1,133.9 304.5,123.2 303.6,112.4 305.1,101.7 307.6,94.2 307.6,91 307.6,81.8 303.4,91 299.7,101.7 298.2,112.4 298.9,123.2 301.4,133.9 304.9,144.6ZM31.5,27.4 31.5,30.1 36.6,26.6 41,17.2 41.7,15.9 41,14.6 36.7,5.2 32.8,5.2 38,15.9 32.5,26.6 31.5,27.4Z"/>
<path fill="#9fc942" stroke="#9fc942" stroke-width="0.6" d="M31.5,219.7 32.8,219.7 31.5,218.8 31.5,219.7ZM31.5,142.4 31.5,144.5 41,140.3 50.5,135.5 53.7,133.9 60.1,125.4 61.8,123.2 60.1,119.6 57,112.4 50.5,108.5 41,102.9 38.9,101.7 31.5,98.9 31.5,100.8 34,101.7 41,105.8 50.5,111.7 51.8,112.4 56.6,123.2 50.5,131.2 48.6,133.9 41,137.8 31.5,142.4ZM307.1,133.9 307.6,135.4 307.6,133.9 307.6,123.2 307.6,112.4 307.6,101.7 307.6,94.2 305.1,101.7 303.6,112.4 304.5,123.2 307.1,133.9ZM31.5,26.6 31.5,27.4 32.5,26.6 38,15.9 32.8,5.2 31.5,5.2 31.5,10.1 34.4,15.9 31.5,21.5 31.5,26.6Z"/>
<path fill="#c8c129" stroke="#c8c129" stroke-width="0.6" d="M31.5,140.3 31.5,142.4 41,137.8 48.6,133.9 50.5,131.2 56.6,123.2 51.8,112.4 50.5,111.7 41,105.8 34,101.7 31.5,100.8 31.5,101.7 31.5,102.9 41,108.6 47.2,112.4 50.5,120.5 51.8,123.2 50.5,124.8 43.9,133.9 41,135.4 31.5,140.3ZM31.5,15.9 31.5,21.5 34.4,15.9 31.5,10.1 31.5,15.9Z"/>
<path fill="#eaba31" stroke="#eaba31" stroke-width="0.6" d="M31.5,138.2 31.5,140.3 41,135.4 43.9,133.9 50.5,124.8 51.8,123.2 50.5,120.5 47.2,112.4 41,108.6 31.5,102.9 31.5,105.4 41,111.4 42.7,112.4 47.5,123.2 41,131.8 39.5,133.9 31.5,138.2Z"/>
<path fill="#fec13a" stroke="#fec13a" stroke-width="0.6" d="M31.5,136 31.5,138.2 39.5,133.9 41,131.8 47.5,123.2 42.7,112.4 41,111.4 31.5,105.4 31.5,107.8 38.7,112.4 41,118.1 43.3,123.2 41,126.3 35.5,133.9 31.5,136Z"/>
<path fill="#fad42e" stroke="#fad42e" stroke-width="0.6" d="M31.5,133.9 31.5,136 35.5,133.9 41,126.3 43.3,123.2 41,118.1 38.7,112.4 31.5,107.8 31.5,110.2 34.9,112.4 39.5,123.2 31.6,133.9 31.5,133.9Z"/>
<path fill="#f5e825" stroke="#f5e825" stroke-width="0.6" d="M31.5,133.9 31.5,133.9 31.6,133.9 39.5,123.2 34.9,112.4 31.5,110.2 31.5,112.4 31.5,113.1 36,123.2 31.5,129.2 31.5,133.9Z"/>
<path fill="#f9fb15" stroke="#f9fb15" stroke-width="0.6" d="M31.5,123.2 31.5,129.2 36,123.2 31.5,113.1 31.5,123.2Z"/>
<path fill="none" stroke="#000" stroke-opacity="1" stroke-width="0.62" stroke-linejoin="round" d="M136.5,219.7 136.2,219.5 126.7,212.8 120.7,209 117.2,207.2 107.7,202.8 98.1,199.5 94.3,198.2 88.6,196.1 79.1,193.1 69.6,190.8 60.1,189.1 50.5,187.7 49.1,187.5 41,184.2 31.5,181.5M31.5,174.5 41,173.8 50.5,173.1 60.1,172.5 69.6,171.9 79.1,171.5 88.6,171.1 98.1,170.8 107.7,170.8 117.2,170.8 126.7,171.1 136.2,171.7 145.7,172.5 155.3,173.6 164.8,175.1 173.3,176.8 174.3,177.1 183.8,180.5 193.4,184.2 200.6,187.5 202.9,189.1 212.4,196.4 214.5,198.2 221.4,209 221.9,213.4 222.5,219.7M222.5,5.2 221.9,7.1 218.3,15.9 212.4,24.8 210.7,26.6 202.9,35.5 200.9,37.4 193.4,44.7 189.6,48.1 183.8,51.9 174.3,58 173,58.8 164.8,61.3 155.3,63.6 145.7,65.5 136.2,67 126.7,68.1 117.2,68.8 107.7,68.8 98.1,67.8 88.6,64.6 82.3,58.8 88.6,57.7 98.1,55.6 107.7,52.6 117.1,48.1 117.2,48.1 126.7,44.6 136.2,39.5 139.4,37.4 145.7,29.1 147.4,26.6 145.7,18.5 145.4,15.9 136.5,5.2M115.9,219.7 107.7,213.7 100.4,209 98.1,207.9 88.6,203.6 79.1,200.2 72.7,198.2 69.6,197.1 60.1,194.2 50.5,191.9 41,190 31.5,188.5M31.5,169.7 41,168.5 50.5,167.4 60.1,166.3 62.1,166.1 69.6,165.6 79.1,165.1 88.6,164.5 98.1,164 107.7,163.6 117.2,163.3 126.7,163.1 136.2,163.1 145.7,163.3 155.3,163.8 164.8,164.7 174.3,166 174.7,166.1 183.8,168.1 193.4,170.8 202.9,174.2 209,176.8 212.4,178.7 221.9,184.7 225.8,187.5 231.4,193.1 236,198.2 241,207.5 241.6,209 243.1,219.7M31.5,67.8 41,61 43.2,58.8 50.5,57.6 60.1,55.7 69.6,53.3 79.1,50.1 84.2,48.1 88.6,46.7 98.1,43.1 107.7,38.4 109.5,37.4 117.2,30.8 121.4,26.6 122.9,15.9 117.2,7.3 115.9,5.2M243.1,5.2 241.3,15.9 241,16.9 236.7,26.6 231.4,36.4 230.8,37.4 223,48.1 221.9,49.3 212.4,58.6 212.1,58.8 202.9,64.4 193.4,69.5 193.3,69.6 183.8,72.5 174.3,74.9 164.8,76.6 155.3,77.8 145.7,78.6 136.2,78.9 126.7,78.9 117.2,78.6 107.7,78 98.1,77.3 88.6,76.4 79.1,75.4 69.6,74.3 60.1,73.2 50.5,72.1 41,71 31.5,69.9M101.8,219.7 98.1,217 88.6,210.6 86.1,209 79.1,205.7 69.6,202 60.1,199 57.6,198.3 50.5,196 41,193.4 31.5,191.3M31.5,165.6 41,164.8 50.5,164 60.1,163.1 69.6,162.1 79.1,161.1 88.6,160.1 98.1,159.1 107.7,158.2 117.2,157.3 126.7,156.6 136.2,156.1 145.7,155.7 155.3,155.7 164.8,156 174.3,156.8 183.8,158.1 193.4,160.1 202.9,162.7 211.9,166.1 212.4,166.3 221.9,171.1 231.1,176.8 231.4,177.1 241,185.3 243.1,187.5 250.5,197.1 251.3,198.2 255.8,209 257.3,219.7M31.5,57.1 41,55.2 50.5,52.9 60.1,49.8 64.9,48.1 69.6,46.7 79.1,43.3 88.6,39.1 92,37.4 98.1,32.8 105.3,26.6 107.7,16.6 107.8,15.9 107.7,15.6 101.8,5.2M257.3,5.2 256,15.9 252.8,26.6 250.5,32.6 248.2,37.4 242.3,48.1 241,50 233.9,58.8 231.4,61.2 221.9,69.1 221.3,69.6 212.4,74.5 202.9,78.8 199,80.3 193.4,82 183.8,84.2 174.3,85.7 164.8,86.6 155.3,87.1 145.7,87.1 136.2,86.7 126.7,86.1 117.2,85.3 107.7,84.4 98.1,83.4 88.6,82.4 79.1,81.4 69.6,80.4 68.4,80.3 60.1,78.8 50.5,77.1 41,75.5 31.5,74M90.6,219.7 88.6,218.3 79.1,211.6 74.9,209 69.6,206.6 60.1,202.8 50.5,199.7 45.7,198.2 41,196.8 31.5,194.1M31.5,163.4 41,162.4 50.5,161.2 60.1,159.9 69.6,158.6 79.1,157.2 88.6,155.7 91.1,155.3 98.1,154.4 107.7,153 117.2,151.7 126.7,150.5 136.2,149.3 145.7,148.4 155.3,147.7 164.8,147.4 174.3,147.5 183.8,148.2 193.4,149.7 202.9,151.9 212.4,155.1 212.8,155.3 221.9,159.3 231.4,164.6 233.6,166.1 241,171.5 246.9,176.8 250.5,180.5 256.4,187.5 260,193 263,198.2 267,209 268.5,219.7M31.5,53.9 41,51.3 50.5,48.1 50.5,48.1 60.1,45.2 69.6,41.7 78.8,37.4 79.1,37.2 88.6,30.4 93.2,26.6 96.5,15.9 90.6,5.2M268.5,5.2 267.5,15.9 264.9,26.6 261.3,37.4 260,40.6 256.4,48.1 250.5,57.8 249.8,58.8 241,68.6 239.9,69.6 231.4,76.2 225.2,80.3 221.9,82.2 212.4,86.8 202.9,90.3 200.3,91 193.4,93 183.8,94.7 174.3,95.7 164.8,96 155.3,95.7 145.7,95 136.2,94 126.7,92.8 117.2,91.5 114.1,91 107.7,90 98.1,88.5 88.6,86.9 79.1,85.4 69.6,84 60.1,82.6 50.5,81.3 42.2,80.3 41,80 31.5,78M81.4,219.7 79.1,218 69.6,211.5 65.6,209 60.1,206.5 50.5,202.8 41,199.7 35.9,198.2 31.5,196.9M31.5,161.3 41,159.9 50.5,158.4 60.1,156.8 68.1,155.3 69.6,155.1 79.1,153.5 88.6,151.8 98.1,150 107.7,148.1 117.2,146.2 125.6,144.6 126.7,144.3 136.2,142.1 145.7,140 155.3,138.2 164.8,136.9 174.3,136.2 183.8,136.2 193.4,137.2 202.9,139.4 212.4,142.9 215.8,144.6 221.9,147.1 231.4,152.4 235.6,155.3 241,158.9 249.4,166.1 250.5,167 259.6,176.8 260,177.3 267.2,187.5 269.5,191.5 272.8,198.2 276.4,209 277.7,219.7M31.5,50.7 39.4,48.1 41,47.6 50.5,44.7 60.1,41.1 68.4,37.4 69.6,36.6 79.1,29.9 83.3,26.6 87,15.9 81.4,5.2M277.7,5.2 277,15.9 274.8,26.6 271.8,37.4 269.5,43.8 267.7,48.1 262,58.8 260,61.8 253.9,69.6 250.5,73.2 242.8,80.3 241,81.8 231.4,88.7 227.5,91 221.9,94.5 212.4,99.1 204.9,101.7 202.9,102.7 193.4,105.7 183.8,107.2 174.3,107.5 164.8,106.8 155.3,105.4 145.7,103.4 139.2,101.7 136.2,101.2 126.7,99.4 117.2,97.4 107.7,95.3 98.1,93.3 88.6,91.4 86.8,91 79.1,89.4 69.6,87.5 60.1,85.7 50.5,84.1 41,82.5 31.5,81.2M73.5,219.7 69.6,216.9 60.1,210.5 57.6,209 50.5,205.9 41,202.3 31.5,199.4M31.5,159.2 41,157.5 50.5,155.7 52.2,155.3 60.1,153.9 69.6,152.1 79.1,150.1 88.6,147.9 98.1,145.6 102.3,144.6 107.7,142.9 117.2,139.7 126.7,136.6 135,133.9 136.2,132.9 145.7,126 150.2,123.2 145.7,118.6 140.7,112.4 136.2,110.9 126.7,107.4 117.2,103.7 112.1,101.7 107.7,100.6 98.1,98 88.6,95.5 79.1,93.2 69.6,91 69.4,91 60.1,88.8 50.5,86.8 41,84.9 31.5,83.3M31.5,47.7 41,44.8 50.5,41.3 59.5,37.4 60.1,37 69.6,30.7 74.9,26.6 78.9,15.9 73.5,5.2M285.5,5.2 285,15.9 283.2,26.6 280.7,37.4 279,42.8 277.2,48.1 272.2,58.8 269.5,63.4 265.3,69.6 260,76.1 256.1,80.3 250.5,86 244.7,91 241,94.7 232.1,101.7 231.4,102.5 221.9,111.2 220,112.4 216.1,123.2 221.9,129.1 225.5,133.9 231.4,137.8 239.3,144.6 241,145.8 250.5,154.1 251.7,155.3 260,163.9 261.7,166.1 269.5,176.1 269.9,176.8 276.3,187.5 279,193 281.3,198.2 284.3,209 285.5,219.7M66.6,219.7 60.1,215.1 50.5,209.1 50.4,209 41,205 31.5,201.6M31.5,157 39.8,155.3 41,155.1 50.5,153.3 60.1,151.3 69.6,149.1 79.1,146.6 86.6,144.6 88.6,143.9 98.1,140.4 107.7,136.7 114.8,133.9 117.2,131.4 125.8,123.2 118.9,112.4 117.2,111.7 107.7,107.2 98.1,103 95.4,101.7 88.6,99.7 79.1,96.8 69.6,94.2 60.1,91.9 56.6,91 50.5,89.5 41,87.3 31.5,85.4M31.5,45.3 41,42 50.5,38 51.9,37.4 60.1,32.2 67.5,26.6 69.6,21.6 72,15.9 69.6,11.4 66.6,5.2M292.4,5.2 292,15.9 290.5,26.6 288.6,36.8 288.4,37.4 285.2,48.1 281,58.8 279,62.5 274.8,69.6 269.5,77.1 267,80.3 260,88.8 257.8,91 250.5,99.9 248.6,101.7 241.8,112.4 241,120.3 240.6,123.2 241,123.8 245.9,133.9 250.5,138.9 254.8,144.6 260,150.2 263.9,155.3 269.5,162.4 271.9,166.1 278.8,176.8 279,177.2 284.2,187.5 288.6,197.8 288.7,198.2 291.4,209 292.4,219.7M60.2,219.7 60.1,219.6 50.5,212.9 44.3,209 41,207.6 31.5,203.8M31.5,155 41,153.1 50.5,151 60.1,148.6 69.6,146 74.6,144.6 79.1,142.9 88.6,139.1 98.1,134.9 100.6,133.9 107.7,126.1 110.5,123.2 107.7,118.5 104.4,112.4 98.1,109.2 88.6,104.5 83,101.7 79.1,100.5 69.6,97.4 60.1,94.7 50.5,92.1 46,91 41,89.7 31.5,87.5M31.5,43 41,39.2 45.2,37.4 50.5,34.1 60.1,27.3 61,26.6 65.8,15.9 60.2,5.2M298.8,5.2 298.4,15.9 298.1,19.1 297.1,26.6 295,37.4 292.3,48.1 288.7,58.8 288.6,59 283.1,69.6 279,76.1 276.1,80.3 269.5,89.7 268.4,91 261.1,101.7 260,104.6 256.2,112.4 255.8,123.2 260,133.3 260.2,133.9 266.9,144.6 269.5,148 274.1,155.3 279,163 280.7,166.1 286.4,176.8 288.6,181.2 291.2,187.5 295.1,198.2 297.8,209 298.1,211.9 298.8,219.7M54.8,219.7 50.5,216.7 41,210.5 38.6,209 31.5,206M31.5,153.2 41,151.1 50.5,148.7 60.1,146 64.7,144.6 69.6,142.7 79.1,138.6 88.6,134.2 89.4,133.9 98.1,123.7 98.6,123.2 98.1,122.3 93.1,112.4 88.6,110 79.1,104.9 72.8,101.7 69.6,100.6 60.1,97.5 50.5,94.6 41,92 37.1,91 31.5,89.6M31.5,40.6 39.1,37.4 41,36.2 50.5,30.1 55.3,26.6 59.9,15.9 54.8,5.2M304.2,5.2 303.9,15.9 302.8,26.6 301.1,37.4 298.8,48.1 298.1,50.6 295.2,58.8 290.3,69.6 288.6,72.9 284,80.3 279,88.5 277.3,91 271.2,101.7 269.5,107.2 267.5,112.4 267.6,123.2 269.5,128.5 271.2,133.9 276.8,144.6 279,148.2 282.7,155.3 288.4,166.1 288.6,166.4 293.1,176.8 297.6,187.5 298.1,188.9 301,198.2 303.3,209 304.2,219.7M49.6,219.7 41,213.7 33.4,209 31.5,208.2M31.5,151.5 41,149.1 50.5,146.4 56.3,144.6 60.1,143.1 69.6,139 79.1,134.4 80.2,133.9 88.6,123.6 89,123.2 88.6,122.4 83.8,112.4 79.1,109.8 69.6,104.5 64.3,101.7 60.1,100.3 50.5,97 41,94.1 31.5,91.6M31.5,38.3 33.6,37.4 41,32.9 49.9,26.6 50.5,25.2 55,15.9 50.5,7.2 49.6,5.2M307.6,31.3 306.7,37.4 304.4,48.1 301.3,58.8 298.1,66.8 296.8,69.6 291,80.3 288.6,85 284.9,91 279.9,101.7 279,105.1 276.9,112.4 277.2,123.2 279,128.9 280.4,133.9 285.2,144.6 288.6,151.2 290.3,155.3 295,166.1 298.1,173.3 299.3,176.8 303.1,187.5 306.4,198.2 307.6,203.9M45.1,219.7 41,216.9 31.5,210.7M31.5,149.7 41,147.1 48.9,144.6 50.5,143.9 60.1,139.8 69.6,135.3 72.4,133.9 79.1,125.4 80.9,123.2 79.1,119.6 75.8,112.4 69.6,108.8 60.1,103.5 56.8,101.7 50.5,99.5 41,96.3 31.5,93.4M307.6,56.3 306.9,58.8 302.5,69.6 298.1,79 297.4,80.3 291.7,91 288.6,99 287.3,101.7 284.8,112.4 285.3,123.2 288.4,133.9 288.6,134.2 292.5,144.6 297,155.3 298.1,157.8 301,166.1 304.8,176.8 307.6,184.8M31.5,35.7 41,29.6 45.2,26.6 50.1,15.9 45.1,5.2M40.6,219.7 31.5,213.4M31.5,148 41,145 42.4,144.6 50.5,141.1 60.1,136.6 65.5,133.9 69.6,128.6 73.9,123.2 69.6,114.4 68.7,112.5 60.1,107.2 50.5,102 50.1,101.7 41,98.4 31.5,95.3M307.6,70.5 302.9,80.3 298.1,90.9 298,91 293.8,101.7 291.8,112.4 292.4,123.2 295.2,133.9 298.1,141.4 299.1,144.6 302.9,155.3 306.6,166.1 307.6,168.9M31.5,32.9 40.6,26.6 41,25.7 45.9,15.9 41,6.2 40.6,5.2M36.7,219.7 31.5,216.1M31.5,146.2 36.6,144.6 41,142.7 50.5,138.3 59.2,133.9 60.1,132.7 67.5,123.2 62.6,112.4 60.1,110.9 50.5,105.2 44.3,101.7 41,100.5 31.5,97.1M307.6,81.8 303.4,91 299.7,101.7 298.2,112.4 298.9,123.2 301.4,133.9 304.9,144.6 307.6,152.4M31.5,30.1 36.6,26.6 41,17.2 41.7,15.9 41,14.6 36.7,5.2M32.8,219.7 31.5,218.8M31.5,144.5 41,140.3 50.5,135.5 53.7,133.9 60.1,125.4 61.8,123.2 60.1,119.6 57,112.4 50.5,108.5 41,102.9 38.9,101.7 31.5,98.9M307.6,94.2 305.1,101.7 303.6,112.4 304.5,123.2 307.1,133.9 307.6,135.4M31.5,27.4 32.5,26.6 38,15.9 32.8,5.2M31.5,142.4 41,137.8 48.6,133.9 50.5,131.2 56.6,123.2 51.8,112.4 50.5,111.7 41,105.8 34,101.7 31.5,100.8M31.5,21.5 34.4,15.9 31.5,10.1M31.5,140.3 41,135.4 43.9,133.9 50.5,124.8 51.8,123.2 50.5,120.5 47.2,112.4 41,108.6 31.5,102.9M31.5,138.2 39.5,133.9 41,131.8 47.5,123.2 42.7,112.4 41,111.4 31.5,105.4M31.5,136 35.5,133.9 41,126.3 43.3,123.2 41,118.1 38.7,112.4 31.5,107.8M31.5,133.9 31.6,133.9 39.5,123.2 34.9,112.4 31.5,110.2M31.5,129.2 36,123.2 31.5,113.1"/>
</g>
<g fill="#00ff00" stroke="#021f02" stroke-opacity="0.8" stroke-width="0.7"><circle cx="98.1" cy="219.7" r="2.15"/><circle cx="107.7" cy="219.7" r="2.15"/><circle cx="117.2" cy="219.7" r="2.15"/><circle cx="126.7" cy="219.7" r="2.15"/><circle cx="136.2" cy="219.7" r="2.15"/><circle cx="145.7" cy="219.7" r="2.15"/><circle cx="155.3" cy="219.7" r="2.15"/><circle cx="164.8" cy="219.7" r="2.15"/><circle cx="202.9" cy="219.7" r="2.15"/><circle cx="212.4" cy="219.7" r="2.15"/><circle cx="221.9" cy="219.7" r="2.15"/><circle cx="231.4" cy="219.7" r="2.15"/><circle cx="241" cy="219.7" r="2.15"/><circle cx="250.5" cy="219.7" r="2.15"/><circle cx="260" cy="219.7" r="2.15"/><circle cx="269.5" cy="219.7" r="2.15"/><circle cx="79.1" cy="209" r="2.15"/><circle cx="88.6" cy="209" r="2.15"/><circle cx="98.1" cy="209" r="2.15"/><circle cx="107.7" cy="209" r="2.15"/><circle cx="117.2" cy="209" r="2.15"/><circle cx="126.7" cy="209" r="2.15"/><circle cx="136.2" cy="209" r="2.15"/><circle cx="145.7" cy="209" r="2.15"/><circle cx="202.9" cy="209" r="2.15"/><circle cx="212.4" cy="209" r="2.15"/><circle cx="221.9" cy="209" r="2.15"/><circle cx="231.4" cy="209" r="2.15"/><circle cx="241" cy="209" r="2.15"/><circle cx="250.5" cy="209" r="2.15"/><circle cx="260" cy="209" r="2.15"/><circle cx="50.5" cy="198.2" r="2.15"/><circle cx="60.1" cy="198.2" r="2.15"/><circle cx="69.6" cy="198.2" r="2.15"/><circle cx="79.1" cy="198.2" r="2.15"/><circle cx="88.6" cy="198.2" r="2.15"/><circle cx="98.1" cy="198.2" r="2.15"/><circle cx="107.7" cy="198.2" r="2.15"/><circle cx="117.2" cy="198.2" r="2.15"/><circle cx="193.4" cy="198.2" r="2.15"/><circle cx="202.9" cy="198.2" r="2.15"/><circle cx="212.4" cy="198.2" r="2.15"/><circle cx="221.9" cy="198.2" r="2.15"/><circle cx="231.4" cy="198.2" r="2.15"/><circle cx="241" cy="198.2" r="2.15"/><circle cx="250.5" cy="198.2" r="2.15"/><circle cx="260" cy="198.2" r="2.15"/><circle cx="31.5" cy="187.5" r="2.15"/><circle cx="41" cy="187.5" r="2.15"/><circle cx="50.5" cy="187.5" r="2.15"/><circle cx="60.1" cy="187.5" r="2.15"/><circle cx="69.6" cy="187.5" r="2.15"/><circle cx="79.1" cy="187.5" r="2.15"/><circle cx="174.3" cy="187.5" r="2.15"/><circle cx="183.8" cy="187.5" r="2.15"/><circle cx="193.4" cy="187.5" r="2.15"/><circle cx="202.9" cy="187.5" r="2.15"/><circle cx="212.4" cy="187.5" r="2.15"/><circle cx="221.9" cy="187.5" r="2.15"/><circle cx="231.4" cy="187.5" r="2.15"/><circle cx="241" cy="187.5" r="2.15"/><circle cx="250.5" cy="187.5" r="2.15"/><circle cx="31.5" cy="176.8" r="2.15"/><circle cx="41" cy="176.8" r="2.15"/><circle cx="50.5" cy="176.8" r="2.15"/><circle cx="60.1" cy="176.8" r="2.15"/><circle cx="69.6" cy="176.8" r="2.15"/><circle cx="126.7" cy="176.8" r="2.15"/><circle cx="136.2" cy="176.8" r="2.15"/><circle cx="145.7" cy="176.8" r="2.15"/><circle cx="155.3" cy="176.8" r="2.15"/><circle cx="164.8" cy="176.8" r="2.15"/><circle cx="174.3" cy="176.8" r="2.15"/><circle cx="183.8" cy="176.8" r="2.15"/><circle cx="193.4" cy="176.8" r="2.15"/><circle cx="202.9" cy="176.8" r="2.15"/><circle cx="212.4" cy="176.8" r="2.15"/><circle cx="221.9" cy="176.8" r="2.15"/><circle cx="231.4" cy="176.8" r="2.15"/><circle cx="241" cy="176.8" r="2.15"/><circle cx="31.5" cy="166.1" r="2.15"/><circle cx="41" cy="166.1" r="2.15"/><circle cx="50.5" cy="166.1" r="2.15"/><circle cx="60.1" cy="166.1" r="2.15"/><circle cx="69.6" cy="166.1" r="2.15"/><circle cx="79.1" cy="166.1" r="2.15"/><circle cx="88.6" cy="166.1" r="2.15"/><circle cx="98.1" cy="166.1" r="2.15"/><circle cx="107.7" cy="166.1" r="2.15"/><circle cx="117.2" cy="166.1" r="2.15"/><circle cx="126.7" cy="166.1" r="2.15"/><circle cx="136.2" cy="166.1" r="2.15"/><circle cx="145.7" cy="166.1" r="2.15"/><circle cx="155.3" cy="166.1" r="2.15"/><circle cx="164.8" cy="166.1" r="2.15"/><circle cx="174.3" cy="166.1" r="2.15"/><circle cx="183.8" cy="166.1" r="2.15"/><circle cx="193.4" cy="166.1" r="2.15"/><circle cx="202.9" cy="166.1" r="2.15"/><circle cx="212.4" cy="166.1" r="2.15"/><circle cx="221.9" cy="166.1" r="2.15"/><circle cx="231.4" cy="166.1" r="2.15"/><circle cx="98.1" cy="155.3" r="2.15"/><circle cx="107.7" cy="155.3" r="2.15"/><circle cx="117.2" cy="155.3" r="2.15"/><circle cx="126.7" cy="155.3" r="2.15"/><circle cx="136.2" cy="155.3" r="2.15"/><circle cx="145.7" cy="155.3" r="2.15"/><circle cx="155.3" cy="155.3" r="2.15"/><circle cx="164.8" cy="155.3" r="2.15"/><circle cx="174.3" cy="155.3" r="2.15"/><circle cx="183.8" cy="155.3" r="2.15"/><circle cx="193.4" cy="155.3" r="2.15"/><circle cx="202.9" cy="155.3" r="2.15"/><circle cx="212.4" cy="155.3" r="2.15"/><circle cx="126.7" cy="91" r="2.15"/><circle cx="136.2" cy="91" r="2.15"/><circle cx="145.7" cy="91" r="2.15"/><circle cx="155.3" cy="91" r="2.15"/><circle cx="164.8" cy="91" r="2.15"/><circle cx="174.3" cy="91" r="2.15"/><circle cx="183.8" cy="91" r="2.15"/><circle cx="193.4" cy="91" r="2.15"/><circle cx="41" cy="80.3" r="2.15"/><circle cx="50.5" cy="80.3" r="2.15"/><circle cx="60.1" cy="80.3" r="2.15"/><circle cx="69.6" cy="80.3" r="2.15"/><circle cx="79.1" cy="80.3" r="2.15"/><circle cx="88.6" cy="80.3" r="2.15"/><circle cx="98.1" cy="80.3" r="2.15"/><circle cx="107.7" cy="80.3" r="2.15"/><circle cx="117.2" cy="80.3" r="2.15"/><circle cx="126.7" cy="80.3" r="2.15"/><circle cx="136.2" cy="80.3" r="2.15"/><circle cx="145.7" cy="80.3" r="2.15"/><circle cx="155.3" cy="80.3" r="2.15"/><circle cx="164.8" cy="80.3" r="2.15"/><circle cx="174.3" cy="80.3" r="2.15"/><circle cx="183.8" cy="80.3" r="2.15"/><circle cx="193.4" cy="80.3" r="2.15"/><circle cx="202.9" cy="80.3" r="2.15"/><circle cx="212.4" cy="80.3" r="2.15"/><circle cx="221.9" cy="80.3" r="2.15"/><circle cx="31.5" cy="69.6" r="2.15"/><circle cx="41" cy="69.6" r="2.15"/><circle cx="50.5" cy="69.6" r="2.15"/><circle cx="60.1" cy="69.6" r="2.15"/><circle cx="69.6" cy="69.6" r="2.15"/><circle cx="79.1" cy="69.6" r="2.15"/><circle cx="88.6" cy="69.6" r="2.15"/><circle cx="98.1" cy="69.6" r="2.15"/><circle cx="107.7" cy="69.6" r="2.15"/><circle cx="117.2" cy="69.6" r="2.15"/><circle cx="126.7" cy="69.6" r="2.15"/><circle cx="136.2" cy="69.6" r="2.15"/><circle cx="145.7" cy="69.6" r="2.15"/><circle cx="155.3" cy="69.6" r="2.15"/><circle cx="164.8" cy="69.6" r="2.15"/><circle cx="174.3" cy="69.6" r="2.15"/><circle cx="183.8" cy="69.6" r="2.15"/><circle cx="193.4" cy="69.6" r="2.15"/><circle cx="202.9" cy="69.6" r="2.15"/><circle cx="212.4" cy="69.6" r="2.15"/><circle cx="221.9" cy="69.6" r="2.15"/><circle cx="231.4" cy="69.6" r="2.15"/><circle cx="31.5" cy="58.8" r="2.15"/><circle cx="41" cy="58.8" r="2.15"/><circle cx="50.5" cy="58.8" r="2.15"/><circle cx="60.1" cy="58.8" r="2.15"/><circle cx="69.6" cy="58.8" r="2.15"/><circle cx="79.1" cy="58.8" r="2.15"/><circle cx="88.6" cy="58.8" r="2.15"/><circle cx="98.1" cy="58.8" r="2.15"/><circle cx="107.7" cy="58.8" r="2.15"/><circle cx="117.2" cy="58.8" r="2.15"/><circle cx="126.7" cy="58.8" r="2.15"/><circle cx="136.2" cy="58.8" r="2.15"/><circle cx="145.7" cy="58.8" r="2.15"/><circle cx="155.3" cy="58.8" r="2.15"/><circle cx="164.8" cy="58.8" r="2.15"/><circle cx="174.3" cy="58.8" r="2.15"/><circle cx="183.8" cy="58.8" r="2.15"/><circle cx="193.4" cy="58.8" r="2.15"/><circle cx="202.9" cy="58.8" r="2.15"/><circle cx="212.4" cy="58.8" r="2.15"/><circle cx="221.9" cy="58.8" r="2.15"/><circle cx="231.4" cy="58.8" r="2.15"/><circle cx="241" cy="58.8" r="2.15"/><circle cx="50.5" cy="48.1" r="2.15"/><circle cx="60.1" cy="48.1" r="2.15"/><circle cx="69.6" cy="48.1" r="2.15"/><circle cx="79.1" cy="48.1" r="2.15"/><circle cx="88.6" cy="48.1" r="2.15"/><circle cx="98.1" cy="48.1" r="2.15"/><circle cx="107.7" cy="48.1" r="2.15"/><circle cx="117.2" cy="48.1" r="2.15"/><circle cx="126.7" cy="48.1" r="2.15"/><circle cx="136.2" cy="48.1" r="2.15"/><circle cx="145.7" cy="48.1" r="2.15"/><circle cx="155.3" cy="48.1" r="2.15"/><circle cx="164.8" cy="48.1" r="2.15"/><circle cx="174.3" cy="48.1" r="2.15"/><circle cx="183.8" cy="48.1" r="2.15"/><circle cx="193.4" cy="48.1" r="2.15"/><circle cx="202.9" cy="48.1" r="2.15"/><circle cx="212.4" cy="48.1" r="2.15"/><circle cx="221.9" cy="48.1" r="2.15"/><circle cx="231.4" cy="48.1" r="2.15"/><circle cx="241" cy="48.1" r="2.15"/><circle cx="250.5" cy="48.1" r="2.15"/><circle cx="79.1" cy="37.4" r="2.15"/><circle cx="88.6" cy="37.4" r="2.15"/><circle cx="98.1" cy="37.4" r="2.15"/><circle cx="107.7" cy="37.4" r="2.15"/><circle cx="117.2" cy="37.4" r="2.15"/><circle cx="126.7" cy="37.4" r="2.15"/><circle cx="136.2" cy="37.4" r="2.15"/><circle cx="145.7" cy="37.4" r="2.15"/><circle cx="155.3" cy="37.4" r="2.15"/><circle cx="164.8" cy="37.4" r="2.15"/><circle cx="174.3" cy="37.4" r="2.15"/><circle cx="183.8" cy="37.4" r="2.15"/><circle cx="193.4" cy="37.4" r="2.15"/><circle cx="98.1" cy="26.6" r="2.15"/><circle cx="107.7" cy="26.6" r="2.15"/><circle cx="117.2" cy="26.6" r="2.15"/><circle cx="126.7" cy="26.6" r="2.15"/><circle cx="136.2" cy="26.6" r="2.15"/><circle cx="145.7" cy="26.6" r="2.15"/><circle cx="155.3" cy="26.6" r="2.15"/><circle cx="164.8" cy="26.6" r="2.15"/><circle cx="174.3" cy="26.6" r="2.15"/><circle cx="183.8" cy="26.6" r="2.15"/><circle cx="193.4" cy="26.6" r="2.15"/><circle cx="98.1" cy="15.9" r="2.15"/><circle cx="107.7" cy="15.9" r="2.15"/><circle cx="117.2" cy="15.9" r="2.15"/><circle cx="126.7" cy="15.9" r="2.15"/><circle cx="136.2" cy="15.9" r="2.15"/><circle cx="145.7" cy="15.9" r="2.15"/><circle cx="155.3" cy="15.9" r="2.15"/><circle cx="164.8" cy="15.9" r="2.15"/><circle cx="174.3" cy="15.9" r="2.15"/><circle cx="183.8" cy="15.9" r="2.15"/><circle cx="193.4" cy="15.9" r="2.15"/><circle cx="98.1" cy="5.2" r="2.15"/><circle cx="107.7" cy="5.2" r="2.15"/><circle cx="117.2" cy="5.2" r="2.15"/><circle cx="126.7" cy="5.2" r="2.15"/><circle cx="136.2" cy="5.2" r="2.15"/><circle cx="145.7" cy="5.2" r="2.15"/><circle cx="155.3" cy="5.2" r="2.15"/><circle cx="164.8" cy="5.2" r="2.15"/><circle cx="202.9" cy="5.2" r="2.15"/><circle cx="212.4" cy="5.2" r="2.15"/><circle cx="221.9" cy="5.2" r="2.15"/><circle cx="231.4" cy="5.2" r="2.15"/><circle cx="241" cy="5.2" r="2.15"/><circle cx="250.5" cy="5.2" r="2.15"/><circle cx="260" cy="5.2" r="2.15"/><circle cx="269.5" cy="5.2" r="2.15"/></g>
<g fill="#ff0000" stroke="#1f0202" stroke-opacity="0.8" stroke-width="0.7"><circle cx="174.3" cy="219.7" r="2.45"/><circle cx="183.8" cy="219.7" r="2.45"/><circle cx="193.4" cy="219.7" r="2.45"/><circle cx="155.3" cy="209" r="2.45"/><circle cx="164.8" cy="209" r="2.45"/><circle cx="174.3" cy="209" r="2.45"/><circle cx="183.8" cy="209" r="2.45"/><circle cx="193.4" cy="209" r="2.45"/><circle cx="126.7" cy="198.2" r="2.45"/><circle cx="136.2" cy="198.2" r="2.45"/><circle cx="145.7" cy="198.2" r="2.45"/><circle cx="155.3" cy="198.2" r="2.45"/><circle cx="164.8" cy="198.2" r="2.45"/><circle cx="174.3" cy="198.2" r="2.45"/><circle cx="183.8" cy="198.2" r="2.45"/><circle cx="88.6" cy="187.5" r="2.45"/><circle cx="98.1" cy="187.5" r="2.45"/><circle cx="107.7" cy="187.5" r="2.45"/><circle cx="117.2" cy="187.5" r="2.45"/><circle cx="126.7" cy="187.5" r="2.45"/><circle cx="136.2" cy="187.5" r="2.45"/><circle cx="145.7" cy="187.5" r="2.45"/><circle cx="155.3" cy="187.5" r="2.45"/><circle cx="164.8" cy="187.5" r="2.45"/><circle cx="79.1" cy="176.8" r="2.45"/><circle cx="88.6" cy="176.8" r="2.45"/><circle cx="98.1" cy="176.8" r="2.45"/><circle cx="107.7" cy="176.8" r="2.45"/><circle cx="117.2" cy="176.8" r="2.45"/><circle cx="174.3" cy="5.2" r="2.45"/><circle cx="183.8" cy="5.2" r="2.45"/><circle cx="193.4" cy="5.2" r="2.45"/></g>
<rect x="31.5" y="5.2" width="276.1" height="214.5" fill="none" stroke="#262626" stroke-width="0.6"/>
<text transform="translate(27.1,224.1) scale(0.925,1)" font-size="12" text-anchor="end">0</text>
<text transform="translate(27.1,190) scale(0.925,1)" font-size="12" text-anchor="end">1</text>
<text transform="translate(27.1,155.8) scale(0.925,1)" font-size="12" text-anchor="end">2</text>
<text transform="translate(27.1,121.7) scale(0.925,1)" font-size="12" text-anchor="end">3</text>
<text transform="translate(27.1,87.5) scale(0.925,1)" font-size="12" text-anchor="end">4</text>
<text transform="translate(27.1,53.4) scale(0.925,1)" font-size="12" text-anchor="end">5</text>
<text transform="translate(27.1,19.3) scale(0.925,1)" font-size="12" text-anchor="end">6</text>
<path d="M31.5,219.7 h2.6 M307.6,219.7 h-2.6 M31.5,185.6 h2.6 M307.6,185.6 h-2.6 M31.5,151.4 h2.6 M307.6,151.4 h-2.6 M31.5,117.3 h2.6 M307.6,117.3 h-2.6 M31.5,83.1 h2.6 M307.6,83.1 h-2.6 M31.5,49 h2.6 M307.6,49 h-2.6 M31.5,14.9 h2.6 M307.6,14.9 h-2.6 M31.5,219.7 v-2.6 M31.5,5.2 v2.6 M73.1,219.7 v-1.4 M73.1,5.2 v1.4 M97.4,219.7 v-1.4 M97.4,5.2 v1.4 M114.6,219.7 v-1.4 M114.6,5.2 v1.4 M128,219.7 v-1.4 M128,5.2 v1.4 M138.9,219.7 v-1.4 M138.9,5.2 v1.4 M148.2,219.7 v-1.4 M148.2,5.2 v1.4 M156.2,219.7 v-1.4 M156.2,5.2 v1.4 M163.2,219.7 v-1.4 M163.2,5.2 v1.4 M169.6,219.7 v-2.6 M169.6,5.2 v2.6 M211.1,219.7 v-1.4 M211.1,5.2 v1.4 M235.4,219.7 v-1.4 M235.4,5.2 v1.4 M252.7,219.7 v-1.4 M252.7,5.2 v1.4 M266,219.7 v-1.4 M266,5.2 v1.4 M277,219.7 v-1.4 M277,5.2 v1.4 M286.2,219.7 v-1.4 M286.2,5.2 v1.4 M294.2,219.7 v-1.4 M294.2,5.2 v1.4 M301.3,219.7 v-1.4 M301.3,5.2 v1.4" stroke="#1a1a1a" stroke-width="0.7" fill="none"/>
<text transform="translate(31.2,238.8) scale(0.925,1)" font-size="12" text-anchor="middle">10<tspan dy="-5" font-size="8.6">-1</tspan></text>
<text transform="translate(169.2,238.8) scale(0.925,1)" font-size="12" text-anchor="middle">10<tspan dy="-5" font-size="8.6">0</tspan></text>
<text transform="translate(307.3,238.8) scale(0.925,1)" font-size="12" text-anchor="middle">10<tspan dy="-5" font-size="8.6">1</tspan></text>
<rect x="204.4" y="7.4" width="102.9" height="33.6" fill="#fff" stroke="#262626" stroke-width="0.5"/>
<path d="M206.8,14.6 h27" stroke="#000" stroke-width="0.5"/>
<circle cx="220.7" cy="25" r="3.0" fill="#00ff00" stroke="#032a03" stroke-opacity="0.75" stroke-width="0.55"/>
<circle cx="220.7" cy="35.6" r="3.0" fill="#ff0000" stroke="#2a0303" stroke-opacity="0.75" stroke-width="0.55"/>
<text transform="translate(237,16.5) scale(0.925,1)" font-size="9">Contour line</text>
<text transform="translate(237,27.1) scale(0.925,1)" font-size="9">Favorable condition</text>
<text transform="translate(237,37.6) scale(0.925,1)" font-size="9">Optimal condition</text>
<rect x="313.5" y="4.5" width="13.300000000000011" height="214.5" fill="url(#pg)" stroke="#262626" stroke-width="0.5"/>
<text transform="translate(330.8,180.3) scale(0.925,1)" font-size="12">0.5</text>
<text transform="translate(330.8,134.9) scale(0.925,1)" font-size="12">1</text>
<text transform="translate(330.8,89.6) scale(0.925,1)" font-size="12">1.5</text>
<text transform="translate(330.8,44.2) scale(0.925,1)" font-size="12">2</text>
<path d="M326.8,175.8 h-2 M326.8,130.4 h-2 M326.8,85.1 h-2 M326.8,39.8 h-2" stroke="#262626" stroke-width="0.5" fill="none"/>
<text transform="translate(178.8,254) scale(0.925,1)" font-size="13.3" text-anchor="middle">Eccentricity ratio <tspan font-style="italic">e</tspan><tspan dy="6.2" font-size="9.6">1</tspan><tspan dy="-6.2">/</tspan><tspan font-style="italic">e</tspan><tspan dy="6.2" font-size="9.6">2</tspan></text>
<text transform="translate(10.3,197.3) rotate(-90) scale(1.0,0.902439024390244)" font-size="12.935499999999998">Initial phase difference</text>
<text transform="translate(10.3,73.8) rotate(-90) scale(1.0,0.926829268292683)" font-size="13.529999999999998">Δ</text>
<text transform="translate(10.3,63) rotate(-90) scale(1.0,0.926829268292683)" font-size="13.529999999999998"><tspan font-style="italic">ϕ</tspan></text>
<text transform="translate(10.3,51.8) rotate(-90) scale(1.0,0.902439024390244)" font-size="12.935499999999998">(rad)</text>
</g>
<text transform="translate(260.2,277.7) scale(0.97,1)" font-size="16.2" text-anchor="middle">(a)</text>
<text transform="translate(421,277.7) scale(0.97,1)" font-size="16.2" text-anchor="middle">(b)</text>
</svg>
</body></html>
